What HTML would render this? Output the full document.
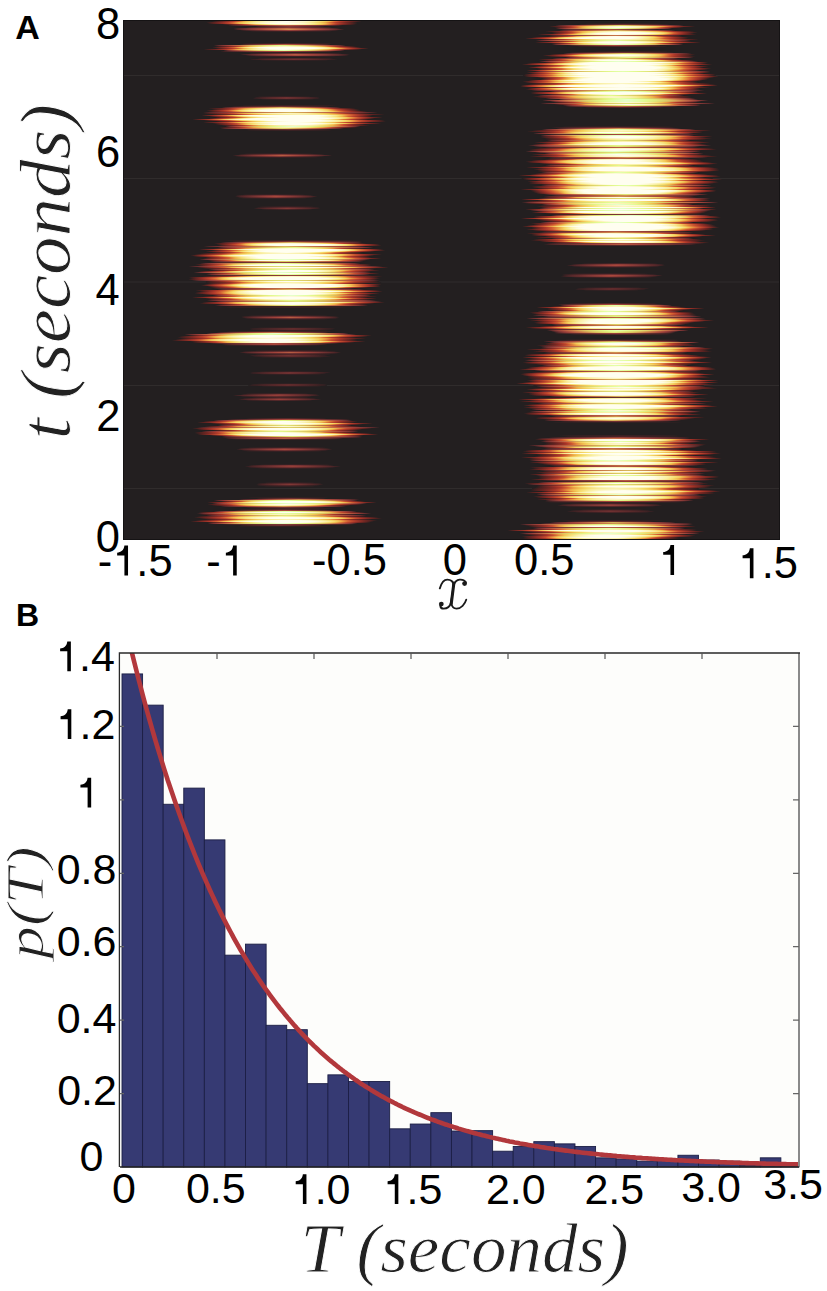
<!DOCTYPE html><html><head><meta charset="utf-8"><style>html,body{margin:0;padding:0;background:#fff;}svg{display:block}</style></head><body>
<svg width="827" height="1291" viewBox="0 0 827 1291">
<defs><linearGradient id="g0"><stop offset="0.000" stop-color="#231f20"/><stop offset="0.036" stop-color="#231f20"/><stop offset="0.071" stop-color="#231f20"/><stop offset="0.107" stop-color="#231f20"/><stop offset="0.143" stop-color="#231f20"/><stop offset="0.179" stop-color="#231f20"/><stop offset="0.214" stop-color="#231f20"/><stop offset="0.250" stop-color="#231f20"/><stop offset="0.286" stop-color="#231f20"/><stop offset="0.321" stop-color="#231f20"/><stop offset="0.357" stop-color="#231f20"/><stop offset="0.393" stop-color="#231f20"/><stop offset="0.429" stop-color="#231f20"/><stop offset="0.464" stop-color="#231f20"/><stop offset="0.500" stop-color="#231f20"/><stop offset="0.536" stop-color="#231f20"/><stop offset="0.571" stop-color="#231f20"/><stop offset="0.607" stop-color="#231f20"/><stop offset="0.643" stop-color="#231f20"/><stop offset="0.679" stop-color="#231f20"/><stop offset="0.714" stop-color="#231f20"/><stop offset="0.750" stop-color="#231f20"/><stop offset="0.786" stop-color="#231f20"/><stop offset="0.821" stop-color="#231f20"/><stop offset="0.857" stop-color="#231f20"/><stop offset="0.893" stop-color="#231f20"/><stop offset="0.929" stop-color="#231f20"/><stop offset="0.964" stop-color="#231f20"/><stop offset="1.000" stop-color="#231f20"/></linearGradient>
<linearGradient id="g1"><stop offset="0.000" stop-color="#231f20"/><stop offset="0.036" stop-color="#241f20"/><stop offset="0.071" stop-color="#241f20"/><stop offset="0.107" stop-color="#241f20"/><stop offset="0.143" stop-color="#251f20"/><stop offset="0.179" stop-color="#251f20"/><stop offset="0.214" stop-color="#251f20"/><stop offset="0.250" stop-color="#251f20"/><stop offset="0.286" stop-color="#251f20"/><stop offset="0.321" stop-color="#251f20"/><stop offset="0.357" stop-color="#251f21"/><stop offset="0.393" stop-color="#251f21"/><stop offset="0.429" stop-color="#261f21"/><stop offset="0.464" stop-color="#261f21"/><stop offset="0.500" stop-color="#261f21"/><stop offset="0.536" stop-color="#261f21"/><stop offset="0.571" stop-color="#261f21"/><stop offset="0.607" stop-color="#251f21"/><stop offset="0.643" stop-color="#251f21"/><stop offset="0.679" stop-color="#251f20"/><stop offset="0.714" stop-color="#251f20"/><stop offset="0.750" stop-color="#251f20"/><stop offset="0.786" stop-color="#251f20"/><stop offset="0.821" stop-color="#251f20"/><stop offset="0.857" stop-color="#251f20"/><stop offset="0.893" stop-color="#241f20"/><stop offset="0.929" stop-color="#241f20"/><stop offset="0.964" stop-color="#241f20"/><stop offset="1.000" stop-color="#231f20"/></linearGradient>
<linearGradient id="g2"><stop offset="0.000" stop-color="#231f20"/><stop offset="0.036" stop-color="#251f20"/><stop offset="0.071" stop-color="#261f21"/><stop offset="0.107" stop-color="#271f21"/><stop offset="0.143" stop-color="#272021"/><stop offset="0.179" stop-color="#282021"/><stop offset="0.214" stop-color="#282021"/><stop offset="0.250" stop-color="#282021"/><stop offset="0.286" stop-color="#292021"/><stop offset="0.321" stop-color="#292021"/><stop offset="0.357" stop-color="#292021"/><stop offset="0.393" stop-color="#292020"/><stop offset="0.429" stop-color="#2a2020"/><stop offset="0.464" stop-color="#2a2020"/><stop offset="0.500" stop-color="#2a2021"/><stop offset="0.536" stop-color="#2a2020"/><stop offset="0.571" stop-color="#2a2020"/><stop offset="0.607" stop-color="#292020"/><stop offset="0.643" stop-color="#292021"/><stop offset="0.679" stop-color="#292021"/><stop offset="0.714" stop-color="#292021"/><stop offset="0.750" stop-color="#282021"/><stop offset="0.786" stop-color="#282021"/><stop offset="0.821" stop-color="#282021"/><stop offset="0.857" stop-color="#272021"/><stop offset="0.893" stop-color="#271f21"/><stop offset="0.929" stop-color="#261f21"/><stop offset="0.964" stop-color="#251f20"/><stop offset="1.000" stop-color="#231f20"/></linearGradient>
<linearGradient id="g3"><stop offset="0.000" stop-color="#231f20"/><stop offset="0.036" stop-color="#271f21"/><stop offset="0.071" stop-color="#282021"/><stop offset="0.107" stop-color="#292020"/><stop offset="0.143" stop-color="#2a2021"/><stop offset="0.179" stop-color="#2b2021"/><stop offset="0.214" stop-color="#2c2021"/><stop offset="0.250" stop-color="#2b2021"/><stop offset="0.286" stop-color="#2c2021"/><stop offset="0.321" stop-color="#2c2021"/><stop offset="0.357" stop-color="#2d2021"/><stop offset="0.393" stop-color="#2d2021"/><stop offset="0.429" stop-color="#2e2022"/><stop offset="0.464" stop-color="#2e2122"/><stop offset="0.500" stop-color="#2f2022"/><stop offset="0.536" stop-color="#2e2122"/><stop offset="0.571" stop-color="#2e2022"/><stop offset="0.607" stop-color="#2d2021"/><stop offset="0.643" stop-color="#2d2021"/><stop offset="0.679" stop-color="#2c2021"/><stop offset="0.714" stop-color="#2c2021"/><stop offset="0.750" stop-color="#2b2021"/><stop offset="0.786" stop-color="#2c2021"/><stop offset="0.821" stop-color="#2b2021"/><stop offset="0.857" stop-color="#2a2021"/><stop offset="0.893" stop-color="#292020"/><stop offset="0.929" stop-color="#282021"/><stop offset="0.964" stop-color="#271f21"/><stop offset="1.000" stop-color="#231f20"/></linearGradient>
<linearGradient id="g4"><stop offset="0.000" stop-color="#231f20"/><stop offset="0.036" stop-color="#292021"/><stop offset="0.071" stop-color="#2b2021"/><stop offset="0.107" stop-color="#2c2021"/><stop offset="0.143" stop-color="#2d2021"/><stop offset="0.179" stop-color="#2e2022"/><stop offset="0.214" stop-color="#2f2022"/><stop offset="0.250" stop-color="#302022"/><stop offset="0.286" stop-color="#312022"/><stop offset="0.321" stop-color="#322022"/><stop offset="0.357" stop-color="#322022"/><stop offset="0.393" stop-color="#332023"/><stop offset="0.429" stop-color="#342023"/><stop offset="0.464" stop-color="#342023"/><stop offset="0.500" stop-color="#352022"/><stop offset="0.536" stop-color="#342023"/><stop offset="0.571" stop-color="#342023"/><stop offset="0.607" stop-color="#332023"/><stop offset="0.643" stop-color="#322022"/><stop offset="0.679" stop-color="#322022"/><stop offset="0.714" stop-color="#312022"/><stop offset="0.750" stop-color="#302022"/><stop offset="0.786" stop-color="#2f2022"/><stop offset="0.821" stop-color="#2e2022"/><stop offset="0.857" stop-color="#2d2021"/><stop offset="0.893" stop-color="#2c2021"/><stop offset="0.929" stop-color="#2b2021"/><stop offset="0.964" stop-color="#292021"/><stop offset="1.000" stop-color="#231f20"/></linearGradient>
<linearGradient id="g5"><stop offset="0.000" stop-color="#231f20"/><stop offset="0.036" stop-color="#2b2021"/><stop offset="0.071" stop-color="#2d2021"/><stop offset="0.107" stop-color="#2f2022"/><stop offset="0.143" stop-color="#312022"/><stop offset="0.179" stop-color="#322022"/><stop offset="0.214" stop-color="#342023"/><stop offset="0.250" stop-color="#352022"/><stop offset="0.286" stop-color="#362022"/><stop offset="0.321" stop-color="#362122"/><stop offset="0.357" stop-color="#372123"/><stop offset="0.393" stop-color="#382123"/><stop offset="0.429" stop-color="#392123"/><stop offset="0.464" stop-color="#3a2123"/><stop offset="0.500" stop-color="#3c2123"/><stop offset="0.536" stop-color="#3a2123"/><stop offset="0.571" stop-color="#392123"/><stop offset="0.607" stop-color="#382123"/><stop offset="0.643" stop-color="#372123"/><stop offset="0.679" stop-color="#362122"/><stop offset="0.714" stop-color="#362022"/><stop offset="0.750" stop-color="#352022"/><stop offset="0.786" stop-color="#342023"/><stop offset="0.821" stop-color="#322022"/><stop offset="0.857" stop-color="#312022"/><stop offset="0.893" stop-color="#2f2022"/><stop offset="0.929" stop-color="#2d2021"/><stop offset="0.964" stop-color="#2b2021"/><stop offset="1.000" stop-color="#231f20"/></linearGradient>
<linearGradient id="g6"><stop offset="0.000" stop-color="#231f20"/><stop offset="0.036" stop-color="#2c2021"/><stop offset="0.071" stop-color="#302022"/><stop offset="0.107" stop-color="#332023"/><stop offset="0.143" stop-color="#352022"/><stop offset="0.179" stop-color="#362122"/><stop offset="0.214" stop-color="#382123"/><stop offset="0.250" stop-color="#3a2123"/><stop offset="0.286" stop-color="#3c2123"/><stop offset="0.321" stop-color="#3e2224"/><stop offset="0.357" stop-color="#412325"/><stop offset="0.393" stop-color="#422325"/><stop offset="0.429" stop-color="#442426"/><stop offset="0.464" stop-color="#462426"/><stop offset="0.500" stop-color="#482426"/><stop offset="0.536" stop-color="#462426"/><stop offset="0.571" stop-color="#442426"/><stop offset="0.607" stop-color="#422325"/><stop offset="0.643" stop-color="#412325"/><stop offset="0.679" stop-color="#3e2224"/><stop offset="0.714" stop-color="#3c2123"/><stop offset="0.750" stop-color="#3a2123"/><stop offset="0.786" stop-color="#382123"/><stop offset="0.821" stop-color="#362122"/><stop offset="0.857" stop-color="#352022"/><stop offset="0.893" stop-color="#332023"/><stop offset="0.929" stop-color="#302022"/><stop offset="0.964" stop-color="#2c2021"/><stop offset="1.000" stop-color="#231f20"/></linearGradient>
<linearGradient id="g7"><stop offset="0.000" stop-color="#231f20"/><stop offset="0.036" stop-color="#2f2022"/><stop offset="0.071" stop-color="#332023"/><stop offset="0.107" stop-color="#372122"/><stop offset="0.143" stop-color="#392123"/><stop offset="0.179" stop-color="#3c2123"/><stop offset="0.214" stop-color="#402324"/><stop offset="0.250" stop-color="#432325"/><stop offset="0.286" stop-color="#462426"/><stop offset="0.321" stop-color="#492426"/><stop offset="0.357" stop-color="#4b2627"/><stop offset="0.393" stop-color="#4e2628"/><stop offset="0.429" stop-color="#502728"/><stop offset="0.464" stop-color="#532729"/><stop offset="0.500" stop-color="#542729"/><stop offset="0.536" stop-color="#532729"/><stop offset="0.571" stop-color="#502728"/><stop offset="0.607" stop-color="#4e2628"/><stop offset="0.643" stop-color="#4b2627"/><stop offset="0.679" stop-color="#492426"/><stop offset="0.714" stop-color="#462426"/><stop offset="0.750" stop-color="#432325"/><stop offset="0.786" stop-color="#402324"/><stop offset="0.821" stop-color="#3c2123"/><stop offset="0.857" stop-color="#392123"/><stop offset="0.893" stop-color="#372122"/><stop offset="0.929" stop-color="#332023"/><stop offset="0.964" stop-color="#2f2022"/><stop offset="1.000" stop-color="#231f20"/></linearGradient>
<linearGradient id="g8"><stop offset="0.000" stop-color="#231f20"/><stop offset="0.036" stop-color="#312022"/><stop offset="0.071" stop-color="#362122"/><stop offset="0.107" stop-color="#3a2123"/><stop offset="0.143" stop-color="#402324"/><stop offset="0.179" stop-color="#452426"/><stop offset="0.214" stop-color="#492426"/><stop offset="0.250" stop-color="#4c2628"/><stop offset="0.286" stop-color="#502729"/><stop offset="0.321" stop-color="#532729"/><stop offset="0.357" stop-color="#572929"/><stop offset="0.393" stop-color="#5a292b"/><stop offset="0.429" stop-color="#5c2a2b"/><stop offset="0.464" stop-color="#5f2a2c"/><stop offset="0.500" stop-color="#612c2c"/><stop offset="0.536" stop-color="#5f2a2c"/><stop offset="0.571" stop-color="#5c2a2b"/><stop offset="0.607" stop-color="#5a292b"/><stop offset="0.643" stop-color="#572929"/><stop offset="0.679" stop-color="#532729"/><stop offset="0.714" stop-color="#502729"/><stop offset="0.750" stop-color="#4c2628"/><stop offset="0.786" stop-color="#492426"/><stop offset="0.821" stop-color="#452426"/><stop offset="0.857" stop-color="#402324"/><stop offset="0.893" stop-color="#3a2123"/><stop offset="0.929" stop-color="#362122"/><stop offset="0.964" stop-color="#312022"/><stop offset="1.000" stop-color="#231f20"/></linearGradient>
<linearGradient id="g9"><stop offset="0.000" stop-color="#231f20"/><stop offset="0.036" stop-color="#342023"/><stop offset="0.071" stop-color="#3a2123"/><stop offset="0.107" stop-color="#412325"/><stop offset="0.143" stop-color="#482426"/><stop offset="0.179" stop-color="#4d2628"/><stop offset="0.214" stop-color="#522729"/><stop offset="0.250" stop-color="#572929"/><stop offset="0.286" stop-color="#5b2a2b"/><stop offset="0.321" stop-color="#5f2a2c"/><stop offset="0.357" stop-color="#622c2c"/><stop offset="0.393" stop-color="#662d2e"/><stop offset="0.429" stop-color="#692e2f"/><stop offset="0.464" stop-color="#6c2f30"/><stop offset="0.500" stop-color="#703131"/><stop offset="0.536" stop-color="#6c2f30"/><stop offset="0.571" stop-color="#692e2f"/><stop offset="0.607" stop-color="#662d2e"/><stop offset="0.643" stop-color="#622c2c"/><stop offset="0.679" stop-color="#5f2a2c"/><stop offset="0.714" stop-color="#5b2a2b"/><stop offset="0.750" stop-color="#572929"/><stop offset="0.786" stop-color="#522729"/><stop offset="0.821" stop-color="#4d2628"/><stop offset="0.857" stop-color="#482426"/><stop offset="0.893" stop-color="#412325"/><stop offset="0.929" stop-color="#3a2123"/><stop offset="0.964" stop-color="#342023"/><stop offset="1.000" stop-color="#231f20"/></linearGradient>
<linearGradient id="g10"><stop offset="0.000" stop-color="#231f20"/><stop offset="0.036" stop-color="#362122"/><stop offset="0.071" stop-color="#402324"/><stop offset="0.107" stop-color="#492426"/><stop offset="0.143" stop-color="#502729"/><stop offset="0.179" stop-color="#572929"/><stop offset="0.214" stop-color="#5c2a2b"/><stop offset="0.250" stop-color="#612c2c"/><stop offset="0.286" stop-color="#662d2e"/><stop offset="0.321" stop-color="#6b2f2f"/><stop offset="0.357" stop-color="#703031"/><stop offset="0.393" stop-color="#753333"/><stop offset="0.429" stop-color="#793433"/><stop offset="0.464" stop-color="#7e3634"/><stop offset="0.500" stop-color="#833835"/><stop offset="0.536" stop-color="#7e3634"/><stop offset="0.571" stop-color="#793433"/><stop offset="0.607" stop-color="#753333"/><stop offset="0.643" stop-color="#703031"/><stop offset="0.679" stop-color="#6b2f2f"/><stop offset="0.714" stop-color="#662d2e"/><stop offset="0.750" stop-color="#612c2c"/><stop offset="0.786" stop-color="#5c2a2b"/><stop offset="0.821" stop-color="#572929"/><stop offset="0.857" stop-color="#502729"/><stop offset="0.893" stop-color="#492426"/><stop offset="0.929" stop-color="#402324"/><stop offset="0.964" stop-color="#362122"/><stop offset="1.000" stop-color="#231f20"/></linearGradient>
<linearGradient id="g11"><stop offset="0.000" stop-color="#231f20"/><stop offset="0.036" stop-color="#392123"/><stop offset="0.071" stop-color="#462426"/><stop offset="0.107" stop-color="#512729"/><stop offset="0.143" stop-color="#59292b"/><stop offset="0.179" stop-color="#602c2c"/><stop offset="0.214" stop-color="#662d2e"/><stop offset="0.250" stop-color="#6d3030"/><stop offset="0.286" stop-color="#733332"/><stop offset="0.321" stop-color="#7a3534"/><stop offset="0.357" stop-color="#813834"/><stop offset="0.393" stop-color="#863935"/><stop offset="0.429" stop-color="#8c3b37"/><stop offset="0.464" stop-color="#913d38"/><stop offset="0.500" stop-color="#973e38"/><stop offset="0.536" stop-color="#913d38"/><stop offset="0.571" stop-color="#8c3b37"/><stop offset="0.607" stop-color="#863935"/><stop offset="0.643" stop-color="#813834"/><stop offset="0.679" stop-color="#7a3534"/><stop offset="0.714" stop-color="#733332"/><stop offset="0.750" stop-color="#6d3030"/><stop offset="0.786" stop-color="#662d2e"/><stop offset="0.821" stop-color="#602c2c"/><stop offset="0.857" stop-color="#59292b"/><stop offset="0.893" stop-color="#512729"/><stop offset="0.929" stop-color="#462426"/><stop offset="0.964" stop-color="#392123"/><stop offset="1.000" stop-color="#231f20"/></linearGradient>
<linearGradient id="g12"><stop offset="0.000" stop-color="#231f20"/><stop offset="0.036" stop-color="#3e2224"/><stop offset="0.071" stop-color="#4d2628"/><stop offset="0.107" stop-color="#59292b"/><stop offset="0.143" stop-color="#612c2c"/><stop offset="0.179" stop-color="#6a2e2f"/><stop offset="0.214" stop-color="#723231"/><stop offset="0.250" stop-color="#7b3534"/><stop offset="0.286" stop-color="#843835"/><stop offset="0.321" stop-color="#8b3b37"/><stop offset="0.357" stop-color="#923d38"/><stop offset="0.393" stop-color="#993f39"/><stop offset="0.429" stop-color="#9f4239"/><stop offset="0.464" stop-color="#a5443b"/><stop offset="0.500" stop-color="#a8493c"/><stop offset="0.536" stop-color="#a5443b"/><stop offset="0.571" stop-color="#9f4239"/><stop offset="0.607" stop-color="#993f39"/><stop offset="0.643" stop-color="#923d38"/><stop offset="0.679" stop-color="#8b3b37"/><stop offset="0.714" stop-color="#843835"/><stop offset="0.750" stop-color="#7b3534"/><stop offset="0.786" stop-color="#723231"/><stop offset="0.821" stop-color="#6a2e2f"/><stop offset="0.857" stop-color="#612c2c"/><stop offset="0.893" stop-color="#59292b"/><stop offset="0.929" stop-color="#4d2628"/><stop offset="0.964" stop-color="#3e2224"/><stop offset="1.000" stop-color="#231f20"/></linearGradient>
<linearGradient id="g13"><stop offset="0.000" stop-color="#231f20"/><stop offset="0.036" stop-color="#422325"/><stop offset="0.071" stop-color="#532729"/><stop offset="0.107" stop-color="#602c2c"/><stop offset="0.143" stop-color="#6b2f2f"/><stop offset="0.179" stop-color="#763333"/><stop offset="0.214" stop-color="#813834"/><stop offset="0.250" stop-color="#8b3b37"/><stop offset="0.286" stop-color="#943d38"/><stop offset="0.321" stop-color="#9c4039"/><stop offset="0.357" stop-color="#a4443b"/><stop offset="0.393" stop-color="#a94b3c"/><stop offset="0.429" stop-color="#ae513e"/><stop offset="0.464" stop-color="#b25740"/><stop offset="0.500" stop-color="#b75e41"/><stop offset="0.536" stop-color="#b25740"/><stop offset="0.571" stop-color="#ae513e"/><stop offset="0.607" stop-color="#a94b3c"/><stop offset="0.643" stop-color="#a4443b"/><stop offset="0.679" stop-color="#9c4039"/><stop offset="0.714" stop-color="#943d38"/><stop offset="0.750" stop-color="#8b3b37"/><stop offset="0.786" stop-color="#813834"/><stop offset="0.821" stop-color="#763333"/><stop offset="0.857" stop-color="#6b2f2f"/><stop offset="0.893" stop-color="#602c2c"/><stop offset="0.929" stop-color="#532729"/><stop offset="0.964" stop-color="#422325"/><stop offset="1.000" stop-color="#231f20"/></linearGradient>
<linearGradient id="g14"><stop offset="0.000" stop-color="#231f20"/><stop offset="0.036" stop-color="#482426"/><stop offset="0.071" stop-color="#5a2a2b"/><stop offset="0.107" stop-color="#682e2f"/><stop offset="0.143" stop-color="#773433"/><stop offset="0.179" stop-color="#843935"/><stop offset="0.214" stop-color="#903c37"/><stop offset="0.250" stop-color="#9b3f39"/><stop offset="0.286" stop-color="#a5443b"/><stop offset="0.321" stop-color="#ab4d3d"/><stop offset="0.357" stop-color="#b15540"/><stop offset="0.393" stop-color="#b65c41"/><stop offset="0.429" stop-color="#bc6442"/><stop offset="0.464" stop-color="#c06b45"/><stop offset="0.500" stop-color="#c67246"/><stop offset="0.536" stop-color="#c06b45"/><stop offset="0.571" stop-color="#bc6442"/><stop offset="0.607" stop-color="#b65c41"/><stop offset="0.643" stop-color="#b15540"/><stop offset="0.679" stop-color="#ab4d3d"/><stop offset="0.714" stop-color="#a5443b"/><stop offset="0.750" stop-color="#9b3f39"/><stop offset="0.786" stop-color="#903c37"/><stop offset="0.821" stop-color="#843935"/><stop offset="0.857" stop-color="#773433"/><stop offset="0.893" stop-color="#682e2f"/><stop offset="0.929" stop-color="#5a2a2b"/><stop offset="0.964" stop-color="#482426"/><stop offset="1.000" stop-color="#231f20"/></linearGradient>
<linearGradient id="g15"><stop offset="0.000" stop-color="#231f20"/><stop offset="0.036" stop-color="#4d2628"/><stop offset="0.071" stop-color="#612c2c"/><stop offset="0.107" stop-color="#723232"/><stop offset="0.143" stop-color="#843835"/><stop offset="0.179" stop-color="#923d38"/><stop offset="0.214" stop-color="#9f4239"/><stop offset="0.250" stop-color="#a8493c"/><stop offset="0.286" stop-color="#b0553e"/><stop offset="0.321" stop-color="#b75e41"/><stop offset="0.357" stop-color="#be6744"/><stop offset="0.393" stop-color="#c47046"/><stop offset="0.429" stop-color="#c97848"/><stop offset="0.464" stop-color="#cc854c"/><stop offset="0.500" stop-color="#cf924f"/><stop offset="0.536" stop-color="#cc854c"/><stop offset="0.571" stop-color="#c97848"/><stop offset="0.607" stop-color="#c47046"/><stop offset="0.643" stop-color="#be6744"/><stop offset="0.679" stop-color="#b75e41"/><stop offset="0.714" stop-color="#b0553e"/><stop offset="0.750" stop-color="#a8493c"/><stop offset="0.786" stop-color="#9f4239"/><stop offset="0.821" stop-color="#923d38"/><stop offset="0.857" stop-color="#843835"/><stop offset="0.893" stop-color="#723232"/><stop offset="0.929" stop-color="#612c2c"/><stop offset="0.964" stop-color="#4d2628"/><stop offset="1.000" stop-color="#231f20"/></linearGradient>
<linearGradient id="g16"><stop offset="0.000" stop-color="#231f20"/><stop offset="0.036" stop-color="#522729"/><stop offset="0.071" stop-color="#692e2f"/><stop offset="0.107" stop-color="#7e3634"/><stop offset="0.143" stop-color="#903c37"/><stop offset="0.179" stop-color="#a1423b"/><stop offset="0.214" stop-color="#ab4d3d"/><stop offset="0.250" stop-color="#b45940"/><stop offset="0.286" stop-color="#bc6444"/><stop offset="0.321" stop-color="#c47046"/><stop offset="0.357" stop-color="#c97b49"/><stop offset="0.393" stop-color="#cd8a4e"/><stop offset="0.429" stop-color="#d19a52"/><stop offset="0.464" stop-color="#d5a856"/><stop offset="0.500" stop-color="#d7b65b"/><stop offset="0.536" stop-color="#d5a856"/><stop offset="0.571" stop-color="#d19a52"/><stop offset="0.607" stop-color="#cd8a4e"/><stop offset="0.643" stop-color="#c97b49"/><stop offset="0.679" stop-color="#c47046"/><stop offset="0.714" stop-color="#bc6444"/><stop offset="0.750" stop-color="#b45940"/><stop offset="0.786" stop-color="#ab4d3d"/><stop offset="0.821" stop-color="#a1423b"/><stop offset="0.857" stop-color="#903c37"/><stop offset="0.893" stop-color="#7e3634"/><stop offset="0.929" stop-color="#692e2f"/><stop offset="0.964" stop-color="#522729"/><stop offset="1.000" stop-color="#231f20"/></linearGradient>
<linearGradient id="g17"><stop offset="0.000" stop-color="#231f20"/><stop offset="0.036" stop-color="#58292b"/><stop offset="0.071" stop-color="#723231"/><stop offset="0.107" stop-color="#8a3a37"/><stop offset="0.143" stop-color="#9e4039"/><stop offset="0.179" stop-color="#ac4e3d"/><stop offset="0.214" stop-color="#b65c41"/><stop offset="0.250" stop-color="#bf6a45"/><stop offset="0.286" stop-color="#c97648"/><stop offset="0.321" stop-color="#cd894d"/><stop offset="0.357" stop-color="#d19b52"/><stop offset="0.393" stop-color="#d5ac57"/><stop offset="0.429" stop-color="#d9bc5c"/><stop offset="0.464" stop-color="#dcc962"/><stop offset="0.500" stop-color="#ddd168"/><stop offset="0.536" stop-color="#dcc962"/><stop offset="0.571" stop-color="#d9bc5c"/><stop offset="0.607" stop-color="#d5ac57"/><stop offset="0.643" stop-color="#d19b52"/><stop offset="0.679" stop-color="#cd894d"/><stop offset="0.714" stop-color="#c97648"/><stop offset="0.750" stop-color="#bf6a45"/><stop offset="0.786" stop-color="#b65c41"/><stop offset="0.821" stop-color="#ac4e3d"/><stop offset="0.857" stop-color="#9e4039"/><stop offset="0.893" stop-color="#8a3a37"/><stop offset="0.929" stop-color="#723231"/><stop offset="0.964" stop-color="#58292b"/><stop offset="1.000" stop-color="#231f20"/></linearGradient>
<linearGradient id="g18"><stop offset="0.000" stop-color="#231f20"/><stop offset="0.036" stop-color="#5d2a2c"/><stop offset="0.071" stop-color="#7b3534"/><stop offset="0.107" stop-color="#963e38"/><stop offset="0.143" stop-color="#a94b3c"/><stop offset="0.179" stop-color="#b65c41"/><stop offset="0.214" stop-color="#c16c45"/><stop offset="0.250" stop-color="#ca7d4a"/><stop offset="0.286" stop-color="#cf9351"/><stop offset="0.321" stop-color="#d5a856"/><stop offset="0.357" stop-color="#d9bc5c"/><stop offset="0.393" stop-color="#dcca63"/><stop offset="0.429" stop-color="#ddd46b"/><stop offset="0.464" stop-color="#dfdd71"/><stop offset="0.500" stop-color="#e0e678"/><stop offset="0.536" stop-color="#dfdd71"/><stop offset="0.571" stop-color="#ddd46b"/><stop offset="0.607" stop-color="#dcca63"/><stop offset="0.643" stop-color="#d9bc5c"/><stop offset="0.679" stop-color="#d5a856"/><stop offset="0.714" stop-color="#cf9351"/><stop offset="0.750" stop-color="#ca7d4a"/><stop offset="0.786" stop-color="#c16c45"/><stop offset="0.821" stop-color="#b65c41"/><stop offset="0.857" stop-color="#a94b3c"/><stop offset="0.893" stop-color="#963e38"/><stop offset="0.929" stop-color="#7b3534"/><stop offset="0.964" stop-color="#5d2a2c"/><stop offset="1.000" stop-color="#231f20"/></linearGradient>
<linearGradient id="g19"><stop offset="0.000" stop-color="#231f20"/><stop offset="0.036" stop-color="#632c2e"/><stop offset="0.071" stop-color="#863935"/><stop offset="0.107" stop-color="#a3433b"/><stop offset="0.143" stop-color="#b25840"/><stop offset="0.179" stop-color="#c06b45"/><stop offset="0.214" stop-color="#ca7f4a"/><stop offset="0.250" stop-color="#d19952"/><stop offset="0.286" stop-color="#d6b25a"/><stop offset="0.321" stop-color="#dbc660"/><stop offset="0.357" stop-color="#ddd269"/><stop offset="0.393" stop-color="#dfdd71"/><stop offset="0.429" stop-color="#e0e879"/><stop offset="0.464" stop-color="#e1f381"/><stop offset="0.500" stop-color="#e2f98c"/><stop offset="0.536" stop-color="#e1f381"/><stop offset="0.571" stop-color="#e0e879"/><stop offset="0.607" stop-color="#dfdd71"/><stop offset="0.643" stop-color="#ddd269"/><stop offset="0.679" stop-color="#dbc660"/><stop offset="0.714" stop-color="#d6b25a"/><stop offset="0.750" stop-color="#d19952"/><stop offset="0.786" stop-color="#ca7f4a"/><stop offset="0.821" stop-color="#c06b45"/><stop offset="0.857" stop-color="#b25840"/><stop offset="0.893" stop-color="#a3433b"/><stop offset="0.929" stop-color="#863935"/><stop offset="0.964" stop-color="#632c2e"/><stop offset="1.000" stop-color="#231f20"/></linearGradient>
<linearGradient id="g20"><stop offset="0.000" stop-color="#231f20"/><stop offset="0.036" stop-color="#692e2f"/><stop offset="0.071" stop-color="#903c37"/><stop offset="0.107" stop-color="#ab4e3d"/><stop offset="0.143" stop-color="#bd6544"/><stop offset="0.179" stop-color="#c97c49"/><stop offset="0.214" stop-color="#d19a52"/><stop offset="0.250" stop-color="#d7b65b"/><stop offset="0.286" stop-color="#dccb64"/><stop offset="0.321" stop-color="#ded96d"/><stop offset="0.357" stop-color="#e0e578"/><stop offset="0.393" stop-color="#e0f181"/><stop offset="0.429" stop-color="#e2f98e"/><stop offset="0.464" stop-color="#e2fe9d"/><stop offset="0.500" stop-color="#e3ffac"/><stop offset="0.536" stop-color="#e2fe9d"/><stop offset="0.571" stop-color="#e2f98e"/><stop offset="0.607" stop-color="#e0f181"/><stop offset="0.643" stop-color="#e0e578"/><stop offset="0.679" stop-color="#ded96d"/><stop offset="0.714" stop-color="#dccb64"/><stop offset="0.750" stop-color="#d7b65b"/><stop offset="0.786" stop-color="#d19a52"/><stop offset="0.821" stop-color="#c97c49"/><stop offset="0.857" stop-color="#bd6544"/><stop offset="0.893" stop-color="#ab4e3d"/><stop offset="0.929" stop-color="#903c37"/><stop offset="0.964" stop-color="#692e2f"/><stop offset="1.000" stop-color="#231f20"/></linearGradient>
<linearGradient id="g21"><stop offset="0.000" stop-color="#231f20"/><stop offset="0.036" stop-color="#703131"/><stop offset="0.071" stop-color="#9b4039"/><stop offset="0.107" stop-color="#b45940"/><stop offset="0.143" stop-color="#c67346"/><stop offset="0.179" stop-color="#d09451"/><stop offset="0.214" stop-color="#d7b55b"/><stop offset="0.250" stop-color="#dccc66"/><stop offset="0.286" stop-color="#dedd71"/><stop offset="0.321" stop-color="#e0ec7c"/><stop offset="0.357" stop-color="#e1f789"/><stop offset="0.393" stop-color="#e2fd9b"/><stop offset="0.429" stop-color="#e3ffac"/><stop offset="0.464" stop-color="#e4ffbd"/><stop offset="0.500" stop-color="#e5ffcc"/><stop offset="0.536" stop-color="#e4ffbd"/><stop offset="0.571" stop-color="#e3ffac"/><stop offset="0.607" stop-color="#e2fd9b"/><stop offset="0.643" stop-color="#e1f789"/><stop offset="0.679" stop-color="#e0ec7c"/><stop offset="0.714" stop-color="#dedd71"/><stop offset="0.750" stop-color="#dccc66"/><stop offset="0.786" stop-color="#d7b55b"/><stop offset="0.821" stop-color="#d09451"/><stop offset="0.857" stop-color="#c67346"/><stop offset="0.893" stop-color="#b45940"/><stop offset="0.929" stop-color="#9b4039"/><stop offset="0.964" stop-color="#703131"/><stop offset="1.000" stop-color="#231f20"/></linearGradient>
<linearGradient id="g22"><stop offset="0.000" stop-color="#231f20"/><stop offset="0.036" stop-color="#46201f"/><stop offset="0.071" stop-color="#5f2321"/><stop offset="0.107" stop-color="#792923"/><stop offset="0.143" stop-color="#993127"/><stop offset="0.179" stop-color="#bf482d"/><stop offset="0.214" stop-color="#dd6f36"/><stop offset="0.250" stop-color="#eba143"/><stop offset="0.286" stop-color="#f1c052"/><stop offset="0.321" stop-color="#f5d761"/><stop offset="0.357" stop-color="#f7e27d"/><stop offset="0.393" stop-color="#f9e991"/><stop offset="0.429" stop-color="#f9ed9c"/><stop offset="0.464" stop-color="#faf0a7"/><stop offset="0.500" stop-color="#fbf2b0"/><stop offset="0.536" stop-color="#faf0a7"/><stop offset="0.571" stop-color="#f9ed9c"/><stop offset="0.607" stop-color="#f9e991"/><stop offset="0.643" stop-color="#f7e27d"/><stop offset="0.679" stop-color="#f5d761"/><stop offset="0.714" stop-color="#f1c052"/><stop offset="0.750" stop-color="#eba143"/><stop offset="0.786" stop-color="#dd6f36"/><stop offset="0.821" stop-color="#bf482d"/><stop offset="0.857" stop-color="#993127"/><stop offset="0.893" stop-color="#792923"/><stop offset="0.929" stop-color="#5f2321"/><stop offset="0.964" stop-color="#46201f"/><stop offset="1.000" stop-color="#231f20"/></linearGradient>
<linearGradient id="g23"><stop offset="0.000" stop-color="#231f20"/><stop offset="0.036" stop-color="#49201f"/><stop offset="0.071" stop-color="#642421"/><stop offset="0.107" stop-color="#822b24"/><stop offset="0.143" stop-color="#a43428"/><stop offset="0.179" stop-color="#c85230"/><stop offset="0.214" stop-color="#e3843c"/><stop offset="0.250" stop-color="#efb44b"/><stop offset="0.286" stop-color="#f4cf5c"/><stop offset="0.321" stop-color="#f6df75"/><stop offset="0.357" stop-color="#f9ea93"/><stop offset="0.393" stop-color="#faf0a8"/><stop offset="0.429" stop-color="#fbf2b1"/><stop offset="0.464" stop-color="#fbf4ba"/><stop offset="0.500" stop-color="#fcf6c4"/><stop offset="0.536" stop-color="#fbf4ba"/><stop offset="0.571" stop-color="#fbf2b1"/><stop offset="0.607" stop-color="#faf0a8"/><stop offset="0.643" stop-color="#f9ea93"/><stop offset="0.679" stop-color="#f6df75"/><stop offset="0.714" stop-color="#f4cf5c"/><stop offset="0.750" stop-color="#efb44b"/><stop offset="0.786" stop-color="#e3843c"/><stop offset="0.821" stop-color="#c85230"/><stop offset="0.857" stop-color="#a43428"/><stop offset="0.893" stop-color="#822b24"/><stop offset="0.929" stop-color="#642421"/><stop offset="0.964" stop-color="#49201f"/><stop offset="1.000" stop-color="#231f20"/></linearGradient>
<linearGradient id="g24"><stop offset="0.000" stop-color="#231f20"/><stop offset="0.036" stop-color="#4d211f"/><stop offset="0.071" stop-color="#6a2522"/><stop offset="0.107" stop-color="#8a2d25"/><stop offset="0.143" stop-color="#ae372a"/><stop offset="0.179" stop-color="#d15c32"/><stop offset="0.214" stop-color="#e99941"/><stop offset="0.250" stop-color="#f1c254"/><stop offset="0.286" stop-color="#f6db6a"/><stop offset="0.321" stop-color="#f8e68a"/><stop offset="0.357" stop-color="#faf1a9"/><stop offset="0.393" stop-color="#fbf4ba"/><stop offset="0.429" stop-color="#fcf6c4"/><stop offset="0.464" stop-color="#fdf8ce"/><stop offset="0.500" stop-color="#fdfad8"/><stop offset="0.536" stop-color="#fdf8ce"/><stop offset="0.571" stop-color="#fcf6c4"/><stop offset="0.607" stop-color="#fbf4ba"/><stop offset="0.643" stop-color="#faf1a9"/><stop offset="0.679" stop-color="#f8e68a"/><stop offset="0.714" stop-color="#f6db6a"/><stop offset="0.750" stop-color="#f1c254"/><stop offset="0.786" stop-color="#e99941"/><stop offset="0.821" stop-color="#d15c32"/><stop offset="0.857" stop-color="#ae372a"/><stop offset="0.893" stop-color="#8a2d25"/><stop offset="0.929" stop-color="#6a2522"/><stop offset="0.964" stop-color="#4d211f"/><stop offset="1.000" stop-color="#231f20"/></linearGradient>
<linearGradient id="g25"><stop offset="0.000" stop-color="#231f20"/><stop offset="0.036" stop-color="#502120"/><stop offset="0.071" stop-color="#6f2622"/><stop offset="0.107" stop-color="#933026"/><stop offset="0.143" stop-color="#b73d2b"/><stop offset="0.179" stop-color="#da6734"/><stop offset="0.214" stop-color="#eead47"/><stop offset="0.250" stop-color="#f4d05d"/><stop offset="0.286" stop-color="#f7e27d"/><stop offset="0.321" stop-color="#faee9f"/><stop offset="0.357" stop-color="#fbf4ba"/><stop offset="0.393" stop-color="#fdf7cd"/><stop offset="0.429" stop-color="#fdf9d8"/><stop offset="0.464" stop-color="#fefbe2"/><stop offset="0.500" stop-color="#fffded"/><stop offset="0.536" stop-color="#fefbe2"/><stop offset="0.571" stop-color="#fdf9d8"/><stop offset="0.607" stop-color="#fdf7cd"/><stop offset="0.643" stop-color="#fbf4ba"/><stop offset="0.679" stop-color="#faee9f"/><stop offset="0.714" stop-color="#f7e27d"/><stop offset="0.750" stop-color="#f4d05d"/><stop offset="0.786" stop-color="#eead47"/><stop offset="0.821" stop-color="#da6734"/><stop offset="0.857" stop-color="#b73d2b"/><stop offset="0.893" stop-color="#933026"/><stop offset="0.929" stop-color="#6f2622"/><stop offset="0.964" stop-color="#502120"/><stop offset="1.000" stop-color="#231f20"/></linearGradient>
<linearGradient id="g26"><stop offset="0.000" stop-color="#231f20"/><stop offset="0.036" stop-color="#542220"/><stop offset="0.071" stop-color="#752723"/><stop offset="0.107" stop-color="#9c3227"/><stop offset="0.143" stop-color="#be462d"/><stop offset="0.179" stop-color="#df7939"/><stop offset="0.214" stop-color="#f0ba4f"/><stop offset="0.250" stop-color="#f6db69"/><stop offset="0.286" stop-color="#f8e990"/><stop offset="0.321" stop-color="#fbf2b1"/><stop offset="0.357" stop-color="#fdf7cd"/><stop offset="0.393" stop-color="#fefbe0"/><stop offset="0.429" stop-color="#fffdeb"/><stop offset="0.464" stop-color="#fffef0"/><stop offset="0.500" stop-color="#fffef0"/><stop offset="0.536" stop-color="#fffef0"/><stop offset="0.571" stop-color="#fffdeb"/><stop offset="0.607" stop-color="#fefbe0"/><stop offset="0.643" stop-color="#fdf7cd"/><stop offset="0.679" stop-color="#fbf2b1"/><stop offset="0.714" stop-color="#f8e990"/><stop offset="0.750" stop-color="#f6db69"/><stop offset="0.786" stop-color="#f0ba4f"/><stop offset="0.821" stop-color="#df7939"/><stop offset="0.857" stop-color="#be462d"/><stop offset="0.893" stop-color="#9c3227"/><stop offset="0.929" stop-color="#752723"/><stop offset="0.964" stop-color="#542220"/><stop offset="1.000" stop-color="#231f20"/></linearGradient>
<linearGradient id="g27"><stop offset="0.000" stop-color="#231f20"/><stop offset="0.036" stop-color="#572220"/><stop offset="0.071" stop-color="#7c2923"/><stop offset="0.107" stop-color="#a53428"/><stop offset="0.143" stop-color="#c54e2f"/><stop offset="0.179" stop-color="#e48b3d"/><stop offset="0.214" stop-color="#f2c757"/><stop offset="0.250" stop-color="#f7e17b"/><stop offset="0.286" stop-color="#faf0a4"/><stop offset="0.321" stop-color="#fcf5c2"/><stop offset="0.357" stop-color="#fefbdf"/><stop offset="0.393" stop-color="#fffef0"/><stop offset="0.429" stop-color="#fffef0"/><stop offset="0.464" stop-color="#fffef0"/><stop offset="0.500" stop-color="#fffef0"/><stop offset="0.536" stop-color="#fffef0"/><stop offset="0.571" stop-color="#fffef0"/><stop offset="0.607" stop-color="#fffef0"/><stop offset="0.643" stop-color="#fefbdf"/><stop offset="0.679" stop-color="#fcf5c2"/><stop offset="0.714" stop-color="#faf0a4"/><stop offset="0.750" stop-color="#f7e17b"/><stop offset="0.786" stop-color="#f2c757"/><stop offset="0.821" stop-color="#e48b3d"/><stop offset="0.857" stop-color="#c54e2f"/><stop offset="0.893" stop-color="#a53428"/><stop offset="0.929" stop-color="#7c2923"/><stop offset="0.964" stop-color="#572220"/><stop offset="1.000" stop-color="#231f20"/></linearGradient>
<linearGradient id="g28"><stop offset="0.000" stop-color="#231f20"/><stop offset="0.036" stop-color="#5b2320"/><stop offset="0.071" stop-color="#832b24"/><stop offset="0.107" stop-color="#ae3729"/><stop offset="0.143" stop-color="#cd5731"/><stop offset="0.179" stop-color="#ea9d42"/><stop offset="0.214" stop-color="#f4d45f"/><stop offset="0.250" stop-color="#f8e78d"/><stop offset="0.286" stop-color="#fbf3b4"/><stop offset="0.321" stop-color="#fdf9d3"/><stop offset="0.357" stop-color="#fffef0"/><stop offset="0.393" stop-color="#fffef0"/><stop offset="0.429" stop-color="#fffef0"/><stop offset="0.464" stop-color="#fffef0"/><stop offset="0.500" stop-color="#fffef0"/><stop offset="0.536" stop-color="#fffef0"/><stop offset="0.571" stop-color="#fffef0"/><stop offset="0.607" stop-color="#fffef0"/><stop offset="0.643" stop-color="#fffef0"/><stop offset="0.679" stop-color="#fdf9d3"/><stop offset="0.714" stop-color="#fbf3b4"/><stop offset="0.750" stop-color="#f8e78d"/><stop offset="0.786" stop-color="#f4d45f"/><stop offset="0.821" stop-color="#ea9d42"/><stop offset="0.857" stop-color="#cd5731"/><stop offset="0.893" stop-color="#ae3729"/><stop offset="0.929" stop-color="#832b24"/><stop offset="0.964" stop-color="#5b2320"/><stop offset="1.000" stop-color="#231f20"/></linearGradient>
<linearGradient id="g29"><stop offset="0.000" stop-color="#231f20"/><stop offset="0.036" stop-color="#5f2321"/><stop offset="0.071" stop-color="#8a2d25"/><stop offset="0.107" stop-color="#b53c2b"/><stop offset="0.143" stop-color="#d46033"/><stop offset="0.179" stop-color="#eeae47"/><stop offset="0.214" stop-color="#f6dc6c"/><stop offset="0.250" stop-color="#faee9f"/><stop offset="0.286" stop-color="#fcf6c4"/><stop offset="0.321" stop-color="#fefce4"/><stop offset="0.357" stop-color="#fffef0"/><stop offset="0.393" stop-color="#fffef0"/><stop offset="0.429" stop-color="#fffef0"/><stop offset="0.464" stop-color="#fffef0"/><stop offset="0.500" stop-color="#fffef0"/><stop offset="0.536" stop-color="#fffef0"/><stop offset="0.571" stop-color="#fffef0"/><stop offset="0.607" stop-color="#fffef0"/><stop offset="0.643" stop-color="#fffef0"/><stop offset="0.679" stop-color="#fefce4"/><stop offset="0.714" stop-color="#fcf6c4"/><stop offset="0.750" stop-color="#faee9f"/><stop offset="0.786" stop-color="#f6dc6c"/><stop offset="0.821" stop-color="#eeae47"/><stop offset="0.857" stop-color="#d46033"/><stop offset="0.893" stop-color="#b53c2b"/><stop offset="0.929" stop-color="#8a2d25"/><stop offset="0.964" stop-color="#5f2321"/><stop offset="1.000" stop-color="#231f20"/></linearGradient>
<linearGradient id="g30"><stop offset="0.000" stop-color="#231f20"/><stop offset="0.036" stop-color="#632421"/><stop offset="0.071" stop-color="#912f26"/><stop offset="0.107" stop-color="#bb432c"/><stop offset="0.143" stop-color="#db6a35"/><stop offset="0.179" stop-color="#f0b94e"/><stop offset="0.214" stop-color="#f7e17c"/><stop offset="0.250" stop-color="#fbf2ae"/><stop offset="0.286" stop-color="#fdf9d4"/><stop offset="0.321" stop-color="#fffef0"/><stop offset="0.357" stop-color="#fffef0"/><stop offset="0.393" stop-color="#fffef0"/><stop offset="0.429" stop-color="#fffef0"/><stop offset="0.464" stop-color="#fffef0"/><stop offset="0.500" stop-color="#fffef0"/><stop offset="0.536" stop-color="#fffef0"/><stop offset="0.571" stop-color="#fffef0"/><stop offset="0.607" stop-color="#fffef0"/><stop offset="0.643" stop-color="#fffef0"/><stop offset="0.679" stop-color="#fffef0"/><stop offset="0.714" stop-color="#fdf9d4"/><stop offset="0.750" stop-color="#fbf2ae"/><stop offset="0.786" stop-color="#f7e17c"/><stop offset="0.821" stop-color="#f0b94e"/><stop offset="0.857" stop-color="#db6a35"/><stop offset="0.893" stop-color="#bb432c"/><stop offset="0.929" stop-color="#912f26"/><stop offset="0.964" stop-color="#632421"/><stop offset="1.000" stop-color="#231f20"/></linearGradient>
<linearGradient id="g31"><stop offset="0.000" stop-color="#231f20"/><stop offset="0.036" stop-color="#662521"/><stop offset="0.071" stop-color="#983127"/><stop offset="0.107" stop-color="#c24a2e"/><stop offset="0.143" stop-color="#df7939"/><stop offset="0.179" stop-color="#f2c455"/><stop offset="0.214" stop-color="#f8e78c"/><stop offset="0.250" stop-color="#fcf4bd"/><stop offset="0.286" stop-color="#fefce4"/><stop offset="0.321" stop-color="#fffef0"/><stop offset="0.357" stop-color="#fffef0"/><stop offset="0.393" stop-color="#fffef0"/><stop offset="0.429" stop-color="#fffef0"/><stop offset="0.464" stop-color="#fffef0"/><stop offset="0.500" stop-color="#fffef0"/><stop offset="0.536" stop-color="#fffef0"/><stop offset="0.571" stop-color="#fffef0"/><stop offset="0.607" stop-color="#fffef0"/><stop offset="0.643" stop-color="#fffef0"/><stop offset="0.679" stop-color="#fffef0"/><stop offset="0.714" stop-color="#fefce4"/><stop offset="0.750" stop-color="#fcf4bd"/><stop offset="0.786" stop-color="#f8e78c"/><stop offset="0.821" stop-color="#f2c455"/><stop offset="0.857" stop-color="#df7939"/><stop offset="0.893" stop-color="#c24a2e"/><stop offset="0.929" stop-color="#983127"/><stop offset="0.964" stop-color="#662521"/><stop offset="1.000" stop-color="#231f20"/></linearGradient>
<linearGradient id="g32"><stop offset="0.000" stop-color="#231f20"/><stop offset="0.036" stop-color="#6a2522"/><stop offset="0.071" stop-color="#a03328"/><stop offset="0.107" stop-color="#c8512f"/><stop offset="0.143" stop-color="#e4883d"/><stop offset="0.179" stop-color="#f4cf5c"/><stop offset="0.214" stop-color="#f9ed9d"/><stop offset="0.250" stop-color="#fdf7cc"/><stop offset="0.286" stop-color="#fffef0"/><stop offset="0.321" stop-color="#fffef0"/><stop offset="0.357" stop-color="#fffef0"/><stop offset="0.393" stop-color="#fffef0"/><stop offset="0.429" stop-color="#fffef0"/><stop offset="0.464" stop-color="#fffef0"/><stop offset="0.500" stop-color="#fffef0"/><stop offset="0.536" stop-color="#fffef0"/><stop offset="0.571" stop-color="#fffef0"/><stop offset="0.607" stop-color="#fffef0"/><stop offset="0.643" stop-color="#fffef0"/><stop offset="0.679" stop-color="#fffef0"/><stop offset="0.714" stop-color="#fffef0"/><stop offset="0.750" stop-color="#fdf7cc"/><stop offset="0.786" stop-color="#f9ed9d"/><stop offset="0.821" stop-color="#f4cf5c"/><stop offset="0.857" stop-color="#e4883d"/><stop offset="0.893" stop-color="#c8512f"/><stop offset="0.929" stop-color="#a03328"/><stop offset="0.964" stop-color="#6a2522"/><stop offset="1.000" stop-color="#231f20"/></linearGradient>
<linearGradient id="g33"><stop offset="0.000" stop-color="#231f20"/><stop offset="0.036" stop-color="#6e2622"/><stop offset="0.071" stop-color="#a73529"/><stop offset="0.107" stop-color="#ce5931"/><stop offset="0.143" stop-color="#e89741"/><stop offset="0.179" stop-color="#f5d965"/><stop offset="0.214" stop-color="#faf1ab"/><stop offset="0.250" stop-color="#fefadb"/><stop offset="0.286" stop-color="#fffef0"/><stop offset="0.321" stop-color="#fffef0"/><stop offset="0.357" stop-color="#fffef0"/><stop offset="0.393" stop-color="#fffef0"/><stop offset="0.429" stop-color="#fffef0"/><stop offset="0.464" stop-color="#fffef0"/><stop offset="0.500" stop-color="#fffef0"/><stop offset="0.536" stop-color="#fffef0"/><stop offset="0.571" stop-color="#fffef0"/><stop offset="0.607" stop-color="#fffef0"/><stop offset="0.643" stop-color="#fffef0"/><stop offset="0.679" stop-color="#fffef0"/><stop offset="0.714" stop-color="#fffef0"/><stop offset="0.750" stop-color="#fefadb"/><stop offset="0.786" stop-color="#faf1ab"/><stop offset="0.821" stop-color="#f5d965"/><stop offset="0.857" stop-color="#e89741"/><stop offset="0.893" stop-color="#ce5931"/><stop offset="0.929" stop-color="#a73529"/><stop offset="0.964" stop-color="#6e2622"/><stop offset="1.000" stop-color="#231f20"/></linearGradient>
<linearGradient id="g34"><stop offset="0.000" stop-color="#231f20"/><stop offset="0.036" stop-color="#732722"/><stop offset="0.071" stop-color="#af372a"/><stop offset="0.107" stop-color="#d56033"/><stop offset="0.143" stop-color="#eda745"/><stop offset="0.179" stop-color="#f6de72"/><stop offset="0.214" stop-color="#fbf4b8"/><stop offset="0.250" stop-color="#fffdea"/><stop offset="0.286" stop-color="#fffef0"/><stop offset="0.321" stop-color="#fffef0"/><stop offset="0.357" stop-color="#fffef0"/><stop offset="0.393" stop-color="#fffef0"/><stop offset="0.429" stop-color="#fffef0"/><stop offset="0.464" stop-color="#fffef0"/><stop offset="0.500" stop-color="#fffef0"/><stop offset="0.536" stop-color="#fffef0"/><stop offset="0.571" stop-color="#fffef0"/><stop offset="0.607" stop-color="#fffef0"/><stop offset="0.643" stop-color="#fffef0"/><stop offset="0.679" stop-color="#fffef0"/><stop offset="0.714" stop-color="#fffef0"/><stop offset="0.750" stop-color="#fffdea"/><stop offset="0.786" stop-color="#fbf4b8"/><stop offset="0.821" stop-color="#f6de72"/><stop offset="0.857" stop-color="#eda745"/><stop offset="0.893" stop-color="#d56033"/><stop offset="0.929" stop-color="#af372a"/><stop offset="0.964" stop-color="#732722"/><stop offset="1.000" stop-color="#231f20"/></linearGradient>
<linearGradient id="g35"><stop offset="0.000" stop-color="#231f20"/><stop offset="0.036" stop-color="#782823"/><stop offset="0.071" stop-color="#b53b2b"/><stop offset="0.107" stop-color="#db6935"/><stop offset="0.143" stop-color="#efb24a"/><stop offset="0.179" stop-color="#f7e380"/><stop offset="0.214" stop-color="#fcf6c6"/><stop offset="0.250" stop-color="#fffef0"/><stop offset="0.286" stop-color="#fffef0"/><stop offset="0.321" stop-color="#fffef0"/><stop offset="0.357" stop-color="#fffef0"/><stop offset="0.393" stop-color="#fffef0"/><stop offset="0.429" stop-color="#fffef0"/><stop offset="0.464" stop-color="#fffef0"/><stop offset="0.500" stop-color="#fffef0"/><stop offset="0.536" stop-color="#fffef0"/><stop offset="0.571" stop-color="#fffef0"/><stop offset="0.607" stop-color="#fffef0"/><stop offset="0.643" stop-color="#fffef0"/><stop offset="0.679" stop-color="#fffef0"/><stop offset="0.714" stop-color="#fffef0"/><stop offset="0.750" stop-color="#fffef0"/><stop offset="0.786" stop-color="#fcf6c6"/><stop offset="0.821" stop-color="#f7e380"/><stop offset="0.857" stop-color="#efb24a"/><stop offset="0.893" stop-color="#db6935"/><stop offset="0.929" stop-color="#b53b2b"/><stop offset="0.964" stop-color="#782823"/><stop offset="1.000" stop-color="#231f20"/></linearGradient>
<linearGradient id="g36"><stop offset="0.000" stop-color="#231f20"/><stop offset="0.036" stop-color="#7d2a24"/><stop offset="0.071" stop-color="#ba412c"/><stop offset="0.107" stop-color="#de7538"/><stop offset="0.143" stop-color="#f0bb50"/><stop offset="0.179" stop-color="#f8e88e"/><stop offset="0.214" stop-color="#fdf9d3"/><stop offset="0.250" stop-color="#fffef0"/><stop offset="0.286" stop-color="#fffef0"/><stop offset="0.321" stop-color="#fffef0"/><stop offset="0.357" stop-color="#fffef0"/><stop offset="0.393" stop-color="#fffef0"/><stop offset="0.429" stop-color="#fffef0"/><stop offset="0.464" stop-color="#fffef0"/><stop offset="0.500" stop-color="#fffef0"/><stop offset="0.536" stop-color="#fffef0"/><stop offset="0.571" stop-color="#fffef0"/><stop offset="0.607" stop-color="#fffef0"/><stop offset="0.643" stop-color="#fffef0"/><stop offset="0.679" stop-color="#fffef0"/><stop offset="0.714" stop-color="#fffef0"/><stop offset="0.750" stop-color="#fffef0"/><stop offset="0.786" stop-color="#fdf9d3"/><stop offset="0.821" stop-color="#f8e88e"/><stop offset="0.857" stop-color="#f0bb50"/><stop offset="0.893" stop-color="#de7538"/><stop offset="0.929" stop-color="#ba412c"/><stop offset="0.964" stop-color="#7d2a24"/><stop offset="1.000" stop-color="#231f20"/></linearGradient>
<linearGradient id="g37"><stop offset="0.000" stop-color="#231f20"/><stop offset="0.036" stop-color="#832b24"/><stop offset="0.071" stop-color="#bf472d"/><stop offset="0.107" stop-color="#e2823b"/><stop offset="0.143" stop-color="#f2c456"/><stop offset="0.179" stop-color="#f9ed9c"/><stop offset="0.214" stop-color="#fefbe1"/><stop offset="0.250" stop-color="#fffef0"/><stop offset="0.286" stop-color="#fffef0"/><stop offset="0.321" stop-color="#fffef0"/><stop offset="0.357" stop-color="#fffef0"/><stop offset="0.393" stop-color="#fffef0"/><stop offset="0.429" stop-color="#fffef0"/><stop offset="0.464" stop-color="#fffef0"/><stop offset="0.500" stop-color="#fffef0"/><stop offset="0.536" stop-color="#fffef0"/><stop offset="0.571" stop-color="#fffef0"/><stop offset="0.607" stop-color="#fffef0"/><stop offset="0.643" stop-color="#fffef0"/><stop offset="0.679" stop-color="#fffef0"/><stop offset="0.714" stop-color="#fffef0"/><stop offset="0.750" stop-color="#fffef0"/><stop offset="0.786" stop-color="#fefbe1"/><stop offset="0.821" stop-color="#f9ed9c"/><stop offset="0.857" stop-color="#f2c456"/><stop offset="0.893" stop-color="#e2823b"/><stop offset="0.929" stop-color="#bf472d"/><stop offset="0.964" stop-color="#832b24"/><stop offset="1.000" stop-color="#231f20"/></linearGradient>
<linearGradient id="g38"><stop offset="0.000" stop-color="#231f20"/><stop offset="0.036" stop-color="#882c25"/><stop offset="0.071" stop-color="#c44d2f"/><stop offset="0.107" stop-color="#e68f3f"/><stop offset="0.143" stop-color="#f3ce5b"/><stop offset="0.179" stop-color="#faf1a9"/><stop offset="0.214" stop-color="#fffeee"/><stop offset="0.250" stop-color="#fffef0"/><stop offset="0.286" stop-color="#fffef0"/><stop offset="0.321" stop-color="#fffef0"/><stop offset="0.357" stop-color="#fffef0"/><stop offset="0.393" stop-color="#fffef0"/><stop offset="0.429" stop-color="#fffef0"/><stop offset="0.464" stop-color="#fffef0"/><stop offset="0.500" stop-color="#fffef0"/><stop offset="0.536" stop-color="#fffef0"/><stop offset="0.571" stop-color="#fffef0"/><stop offset="0.607" stop-color="#fffef0"/><stop offset="0.643" stop-color="#fffef0"/><stop offset="0.679" stop-color="#fffef0"/><stop offset="0.714" stop-color="#fffef0"/><stop offset="0.750" stop-color="#fffef0"/><stop offset="0.786" stop-color="#fffeee"/><stop offset="0.821" stop-color="#faf1a9"/><stop offset="0.857" stop-color="#f3ce5b"/><stop offset="0.893" stop-color="#e68f3f"/><stop offset="0.929" stop-color="#c44d2f"/><stop offset="0.964" stop-color="#882c25"/><stop offset="1.000" stop-color="#231f20"/></linearGradient>
<linearGradient id="g39"><stop offset="0.000" stop-color="#231f20"/><stop offset="0.036" stop-color="#8d2e26"/><stop offset="0.071" stop-color="#ca5330"/><stop offset="0.107" stop-color="#ea9d42"/><stop offset="0.143" stop-color="#f5d761"/><stop offset="0.179" stop-color="#fbf3b4"/><stop offset="0.214" stop-color="#fffef0"/><stop offset="0.250" stop-color="#fffef0"/><stop offset="0.286" stop-color="#fffef0"/><stop offset="0.321" stop-color="#fffef0"/><stop offset="0.357" stop-color="#fffef0"/><stop offset="0.393" stop-color="#fffef0"/><stop offset="0.429" stop-color="#fffef0"/><stop offset="0.464" stop-color="#fffef0"/><stop offset="0.500" stop-color="#fffef0"/><stop offset="0.536" stop-color="#fffef0"/><stop offset="0.571" stop-color="#fffef0"/><stop offset="0.607" stop-color="#fffef0"/><stop offset="0.643" stop-color="#fffef0"/><stop offset="0.679" stop-color="#fffef0"/><stop offset="0.714" stop-color="#fffef0"/><stop offset="0.750" stop-color="#fffef0"/><stop offset="0.786" stop-color="#fffef0"/><stop offset="0.821" stop-color="#fbf3b4"/><stop offset="0.857" stop-color="#f5d761"/><stop offset="0.893" stop-color="#ea9d42"/><stop offset="0.929" stop-color="#ca5330"/><stop offset="0.964" stop-color="#8d2e26"/><stop offset="1.000" stop-color="#231f20"/></linearGradient>
<linearGradient id="g40"><stop offset="0.000" stop-color="#231f20"/><stop offset="0.036" stop-color="#932f26"/><stop offset="0.071" stop-color="#cf5931"/><stop offset="0.107" stop-color="#edaa45"/><stop offset="0.143" stop-color="#f6dc6c"/><stop offset="0.179" stop-color="#fcf5c0"/><stop offset="0.214" stop-color="#fffef0"/><stop offset="0.250" stop-color="#fffef0"/><stop offset="0.286" stop-color="#fffef0"/><stop offset="0.321" stop-color="#fffef0"/><stop offset="0.357" stop-color="#fffef0"/><stop offset="0.393" stop-color="#fffef0"/><stop offset="0.429" stop-color="#fffef0"/><stop offset="0.464" stop-color="#fffef0"/><stop offset="0.500" stop-color="#fffef0"/><stop offset="0.536" stop-color="#fffef0"/><stop offset="0.571" stop-color="#fffef0"/><stop offset="0.607" stop-color="#fffef0"/><stop offset="0.643" stop-color="#fffef0"/><stop offset="0.679" stop-color="#fffef0"/><stop offset="0.714" stop-color="#fffef0"/><stop offset="0.750" stop-color="#fffef0"/><stop offset="0.786" stop-color="#fffef0"/><stop offset="0.821" stop-color="#fcf5c0"/><stop offset="0.857" stop-color="#f6dc6c"/><stop offset="0.893" stop-color="#edaa45"/><stop offset="0.929" stop-color="#cf5931"/><stop offset="0.964" stop-color="#932f26"/><stop offset="1.000" stop-color="#231f20"/></linearGradient>
<linearGradient id="g41"><stop offset="0.000" stop-color="#231f20"/><stop offset="0.036" stop-color="#983127"/><stop offset="0.071" stop-color="#d45f33"/><stop offset="0.107" stop-color="#efb34a"/><stop offset="0.143" stop-color="#f7e078"/><stop offset="0.179" stop-color="#fdf7cb"/><stop offset="0.214" stop-color="#fffef0"/><stop offset="0.250" stop-color="#fffef0"/><stop offset="0.286" stop-color="#fffef0"/><stop offset="0.321" stop-color="#fffef0"/><stop offset="0.357" stop-color="#fffef0"/><stop offset="0.393" stop-color="#fffef0"/><stop offset="0.429" stop-color="#fffef0"/><stop offset="0.464" stop-color="#fffef0"/><stop offset="0.500" stop-color="#fffef0"/><stop offset="0.536" stop-color="#fffef0"/><stop offset="0.571" stop-color="#fffef0"/><stop offset="0.607" stop-color="#fffef0"/><stop offset="0.643" stop-color="#fffef0"/><stop offset="0.679" stop-color="#fffef0"/><stop offset="0.714" stop-color="#fffef0"/><stop offset="0.750" stop-color="#fffef0"/><stop offset="0.786" stop-color="#fffef0"/><stop offset="0.821" stop-color="#fdf7cb"/><stop offset="0.857" stop-color="#f7e078"/><stop offset="0.893" stop-color="#efb34a"/><stop offset="0.929" stop-color="#d45f33"/><stop offset="0.964" stop-color="#983127"/><stop offset="1.000" stop-color="#231f20"/></linearGradient>
<linearGradient id="g42"><stop offset="0.000" stop-color="#231f20"/><stop offset="0.036" stop-color="#9e3228"/><stop offset="0.071" stop-color="#da6634"/><stop offset="0.107" stop-color="#f0ba4f"/><stop offset="0.143" stop-color="#f7e483"/><stop offset="0.179" stop-color="#fdf9d7"/><stop offset="0.214" stop-color="#fffef0"/><stop offset="0.250" stop-color="#fffef0"/><stop offset="0.286" stop-color="#fffef0"/><stop offset="0.321" stop-color="#fffef0"/><stop offset="0.357" stop-color="#fffef0"/><stop offset="0.393" stop-color="#fffef0"/><stop offset="0.429" stop-color="#fffef0"/><stop offset="0.464" stop-color="#fffef0"/><stop offset="0.500" stop-color="#fffef0"/><stop offset="0.536" stop-color="#fffef0"/><stop offset="0.571" stop-color="#fffef0"/><stop offset="0.607" stop-color="#fffef0"/><stop offset="0.643" stop-color="#fffef0"/><stop offset="0.679" stop-color="#fffef0"/><stop offset="0.714" stop-color="#fffef0"/><stop offset="0.750" stop-color="#fffef0"/><stop offset="0.786" stop-color="#fffef0"/><stop offset="0.821" stop-color="#fdf9d7"/><stop offset="0.857" stop-color="#f7e483"/><stop offset="0.893" stop-color="#f0ba4f"/><stop offset="0.929" stop-color="#da6634"/><stop offset="0.964" stop-color="#9e3228"/><stop offset="1.000" stop-color="#231f20"/></linearGradient>
<linearGradient id="g43"><stop offset="0.000" stop-color="#231f20"/><stop offset="0.036" stop-color="#a33428"/><stop offset="0.071" stop-color="#dd7037"/><stop offset="0.107" stop-color="#f2c254"/><stop offset="0.143" stop-color="#f8e88f"/><stop offset="0.179" stop-color="#fefbe2"/><stop offset="0.214" stop-color="#fffef0"/><stop offset="0.250" stop-color="#fffef0"/><stop offset="0.286" stop-color="#fffef0"/><stop offset="0.321" stop-color="#fffef0"/><stop offset="0.357" stop-color="#fffef0"/><stop offset="0.393" stop-color="#fffef0"/><stop offset="0.429" stop-color="#fffef0"/><stop offset="0.464" stop-color="#fffef0"/><stop offset="0.500" stop-color="#fffef0"/><stop offset="0.536" stop-color="#fffef0"/><stop offset="0.571" stop-color="#fffef0"/><stop offset="0.607" stop-color="#fffef0"/><stop offset="0.643" stop-color="#fffef0"/><stop offset="0.679" stop-color="#fffef0"/><stop offset="0.714" stop-color="#fffef0"/><stop offset="0.750" stop-color="#fffef0"/><stop offset="0.786" stop-color="#fffef0"/><stop offset="0.821" stop-color="#fefbe2"/><stop offset="0.857" stop-color="#f8e88f"/><stop offset="0.893" stop-color="#f2c254"/><stop offset="0.929" stop-color="#dd7037"/><stop offset="0.964" stop-color="#a33428"/><stop offset="1.000" stop-color="#231f20"/></linearGradient>
<linearGradient id="g44"><stop offset="0.000" stop-color="#231f20"/><stop offset="0.036" stop-color="#a93529"/><stop offset="0.071" stop-color="#e07a39"/><stop offset="0.107" stop-color="#f3ca59"/><stop offset="0.143" stop-color="#f9ec9b"/><stop offset="0.179" stop-color="#fffeee"/><stop offset="0.214" stop-color="#fffef0"/><stop offset="0.250" stop-color="#fffef0"/><stop offset="0.286" stop-color="#fffef0"/><stop offset="0.321" stop-color="#fffef0"/><stop offset="0.357" stop-color="#fffef0"/><stop offset="0.393" stop-color="#fffef0"/><stop offset="0.429" stop-color="#fffef0"/><stop offset="0.464" stop-color="#fffef0"/><stop offset="0.500" stop-color="#fffef0"/><stop offset="0.536" stop-color="#fffef0"/><stop offset="0.571" stop-color="#fffef0"/><stop offset="0.607" stop-color="#fffef0"/><stop offset="0.643" stop-color="#fffef0"/><stop offset="0.679" stop-color="#fffef0"/><stop offset="0.714" stop-color="#fffef0"/><stop offset="0.750" stop-color="#fffef0"/><stop offset="0.786" stop-color="#fffef0"/><stop offset="0.821" stop-color="#fffeee"/><stop offset="0.857" stop-color="#f9ec9b"/><stop offset="0.893" stop-color="#f3ca59"/><stop offset="0.929" stop-color="#e07a39"/><stop offset="0.964" stop-color="#a93529"/><stop offset="1.000" stop-color="#231f20"/></linearGradient>
<linearGradient id="g45"><stop offset="0.000" stop-color="#231f20"/><stop offset="0.036" stop-color="#af372a"/><stop offset="0.071" stop-color="#e3853c"/><stop offset="0.107" stop-color="#f4d25e"/><stop offset="0.143" stop-color="#faf0a6"/><stop offset="0.179" stop-color="#fffef0"/><stop offset="0.214" stop-color="#fffef0"/><stop offset="0.250" stop-color="#fffef0"/><stop offset="0.286" stop-color="#fffef0"/><stop offset="0.321" stop-color="#fffef0"/><stop offset="0.357" stop-color="#fffef0"/><stop offset="0.393" stop-color="#fffef0"/><stop offset="0.429" stop-color="#fffef0"/><stop offset="0.464" stop-color="#fffef0"/><stop offset="0.500" stop-color="#fffef0"/><stop offset="0.536" stop-color="#fffef0"/><stop offset="0.571" stop-color="#fffef0"/><stop offset="0.607" stop-color="#fffef0"/><stop offset="0.643" stop-color="#fffef0"/><stop offset="0.679" stop-color="#fffef0"/><stop offset="0.714" stop-color="#fffef0"/><stop offset="0.750" stop-color="#fffef0"/><stop offset="0.786" stop-color="#fffef0"/><stop offset="0.821" stop-color="#fffef0"/><stop offset="0.857" stop-color="#faf0a6"/><stop offset="0.893" stop-color="#f4d25e"/><stop offset="0.929" stop-color="#e3853c"/><stop offset="0.964" stop-color="#af372a"/><stop offset="1.000" stop-color="#231f20"/></linearGradient>
<linearGradient id="g46"><stop offset="0.000" stop-color="#231f20"/><stop offset="0.036" stop-color="#b33a2a"/><stop offset="0.071" stop-color="#e6903f"/><stop offset="0.107" stop-color="#f5d965"/><stop offset="0.143" stop-color="#fbf2b0"/><stop offset="0.179" stop-color="#fffef0"/><stop offset="0.214" stop-color="#fffef0"/><stop offset="0.250" stop-color="#fffef0"/><stop offset="0.286" stop-color="#fffef0"/><stop offset="0.321" stop-color="#fffef0"/><stop offset="0.357" stop-color="#fffef0"/><stop offset="0.393" stop-color="#fffef0"/><stop offset="0.429" stop-color="#fffef0"/><stop offset="0.464" stop-color="#fffef0"/><stop offset="0.500" stop-color="#fffef0"/><stop offset="0.536" stop-color="#fffef0"/><stop offset="0.571" stop-color="#fffef0"/><stop offset="0.607" stop-color="#fffef0"/><stop offset="0.643" stop-color="#fffef0"/><stop offset="0.679" stop-color="#fffef0"/><stop offset="0.714" stop-color="#fffef0"/><stop offset="0.750" stop-color="#fffef0"/><stop offset="0.786" stop-color="#fffef0"/><stop offset="0.821" stop-color="#fffef0"/><stop offset="0.857" stop-color="#fbf2b0"/><stop offset="0.893" stop-color="#f5d965"/><stop offset="0.929" stop-color="#e6903f"/><stop offset="0.964" stop-color="#b33a2a"/><stop offset="1.000" stop-color="#231f20"/></linearGradient>
<linearGradient id="g47"><stop offset="0.000" stop-color="#231f20"/><stop offset="0.036" stop-color="#b73e2b"/><stop offset="0.071" stop-color="#e99b42"/><stop offset="0.107" stop-color="#f6dc6e"/><stop offset="0.143" stop-color="#fbf4b9"/><stop offset="0.179" stop-color="#fffef0"/><stop offset="0.214" stop-color="#fffef0"/><stop offset="0.250" stop-color="#fffef0"/><stop offset="0.286" stop-color="#fffef0"/><stop offset="0.321" stop-color="#fffef0"/><stop offset="0.357" stop-color="#fffef0"/><stop offset="0.393" stop-color="#fffef0"/><stop offset="0.429" stop-color="#fffef0"/><stop offset="0.464" stop-color="#fffef0"/><stop offset="0.500" stop-color="#fffef0"/><stop offset="0.536" stop-color="#fffef0"/><stop offset="0.571" stop-color="#fffef0"/><stop offset="0.607" stop-color="#fffef0"/><stop offset="0.643" stop-color="#fffef0"/><stop offset="0.679" stop-color="#fffef0"/><stop offset="0.714" stop-color="#fffef0"/><stop offset="0.750" stop-color="#fffef0"/><stop offset="0.786" stop-color="#fffef0"/><stop offset="0.821" stop-color="#fffef0"/><stop offset="0.857" stop-color="#fbf4b9"/><stop offset="0.893" stop-color="#f6dc6e"/><stop offset="0.929" stop-color="#e99b42"/><stop offset="0.964" stop-color="#b73e2b"/><stop offset="1.000" stop-color="#231f20"/></linearGradient><filter id="vblur" x="0" y="0" width="1" height="1" color-interpolation-filters="sRGB"><feGaussianBlur stdDeviation="0.6 0.55"/></filter><clipPath id="hclip"><rect x="123" y="20" width="657" height="520"/></clipPath><clipPath id="bclip"><rect x="120" y="653" width="679" height="514"/></clipPath></defs>
<rect width="827" height="1291" fill="#fff"/>
<g clip-path="url(#hclip)"><g filter="url(#vblur)"><rect x="123" y="20" width="657" height="520" fill="#231f20"/><rect x="123" y="75.0" width="657" height="1" fill="#302c2c"/><rect x="123" y="178.0" width="657" height="1" fill="#302c2c"/><rect x="123" y="281.5" width="657" height="1" fill="#302c2c"/><rect x="123" y="385.0" width="657" height="1" fill="#302c2c"/><rect x="123" y="488.0" width="657" height="1" fill="#302c2c"/><rect x="231.1" y="20.0" width="116.0" height="1" fill="url(#g19)"/><rect x="212.1" y="21.0" width="149.3" height="1" fill="url(#g25)"/><rect x="206.3" y="22.0" width="151.2" height="1" fill="url(#g25)"/><rect x="207.8" y="23.0" width="149.7" height="1" fill="url(#g26)"/><rect x="222.7" y="24.0" width="133.3" height="1" fill="url(#g23)"/><rect x="228.2" y="25.0" width="114.4" height="1" fill="url(#g13)"/><rect x="255.4" y="26.0" width="69.8" height="1" fill="url(#g10)"/><rect x="245.9" y="27.0" width="86.4" height="1" fill="url(#g10)"/><rect x="233.5" y="28.0" width="106.5" height="1" fill="url(#g14)"/><rect x="233.9" y="29.0" width="110.5" height="1" fill="url(#g15)"/><rect x="240.1" y="30.0" width="98.9" height="1" fill="url(#g11)"/><rect x="249.7" y="31.0" width="82.5" height="1" fill="url(#g5)"/><rect x="242.4" y="43.0" width="90.4" height="1" fill="url(#g6)"/><rect x="239.6" y="44.0" width="91.1" height="1" fill="url(#g13)"/><rect x="213.8" y="45.0" width="132.0" height="1" fill="url(#g19)"/><rect x="215.3" y="46.0" width="140.9" height="1" fill="url(#g23)"/><rect x="212.4" y="47.0" width="148.6" height="1" fill="url(#g29)"/><rect x="215.7" y="48.0" width="153.0" height="1" fill="url(#g28)"/><rect x="203.8" y="49.0" width="158.0" height="1" fill="url(#g25)"/><rect x="223.5" y="50.0" width="121.2" height="1" fill="url(#g20)"/><rect x="220.5" y="51.0" width="114.7" height="1" fill="url(#g12)"/><rect x="244.8" y="52.0" width="71.7" height="1" fill="url(#g4)"/><rect x="248.7" y="53.0" width="93.1" height="1" fill="url(#g9)"/><rect x="240.2" y="54.0" width="109.7" height="1" fill="url(#g13)"/><rect x="245.5" y="55.0" width="103.2" height="1" fill="url(#g12)"/><rect x="253.3" y="56.0" width="83.2" height="1" fill="url(#g5)"/><rect x="257.3" y="58.0" width="76.1" height="1" fill="url(#g7)"/><rect x="249.7" y="59.0" width="87.6" height="1" fill="url(#g9)"/><rect x="259.9" y="60.0" width="68.6" height="1" fill="url(#g4)"/><rect x="257.6" y="96.0" width="53.1" height="1" fill="url(#g4)"/><rect x="254.0" y="97.0" width="65.5" height="1" fill="url(#g9)"/><rect x="252.7" y="98.0" width="67.2" height="1" fill="url(#g9)"/><rect x="260.7" y="99.0" width="53.2" height="1" fill="url(#g4)"/><rect x="241.0" y="105.0" width="94.9" height="1" fill="url(#g5)"/><rect x="231.1" y="106.0" width="98.7" height="1" fill="url(#g9)"/><rect x="221.6" y="107.0" width="119.2" height="1" fill="url(#g16)"/><rect x="208.6" y="108.0" width="147.1" height="1" fill="url(#g22)"/><rect x="212.0" y="109.0" width="147.2" height="1" fill="url(#g26)"/><rect x="206.5" y="110.0" width="154.1" height="1" fill="url(#g28)"/><rect x="208.6" y="111.0" width="158.4" height="1" fill="url(#g27)"/><rect x="203.2" y="112.0" width="174.5" height="1" fill="url(#g16)"/><rect x="203.2" y="113.0" width="166.9" height="1" fill="url(#g23)"/><rect x="211.5" y="114.0" width="173.0" height="1" fill="url(#g22)"/><rect x="201.5" y="115.0" width="171.2" height="1" fill="url(#g31)"/><rect x="209.4" y="116.0" width="162.0" height="1" fill="url(#g29)"/><rect x="215.1" y="117.0" width="167.6" height="1" fill="url(#g27)"/><rect x="209.1" y="118.0" width="165.5" height="1" fill="url(#g32)"/><rect x="192.6" y="119.0" width="175.9" height="1" fill="url(#g31)"/><rect x="204.1" y="120.0" width="180.7" height="1" fill="url(#g28)"/><rect x="216.2" y="121.0" width="169.7" height="1" fill="url(#g26)"/><rect x="203.3" y="122.0" width="166.9" height="1" fill="url(#g26)"/><rect x="212.7" y="123.0" width="168.4" height="1" fill="url(#g27)"/><rect x="215.7" y="124.0" width="149.6" height="1" fill="url(#g27)"/><rect x="221.8" y="125.0" width="147.8" height="1" fill="url(#g23)"/><rect x="225.3" y="126.0" width="134.9" height="1" fill="url(#g21)"/><rect x="219.6" y="127.0" width="137.9" height="1" fill="url(#g22)"/><rect x="220.5" y="128.0" width="123.5" height="1" fill="url(#g17)"/><rect x="245.4" y="129.0" width="84.3" height="1" fill="url(#g9)"/><rect x="247.0" y="130.0" width="84.9" height="1" fill="url(#g5)"/><rect x="244.2" y="153.0" width="69.3" height="1" fill="url(#g4)"/><rect x="238.1" y="154.0" width="86.6" height="1" fill="url(#g10)"/><rect x="232.8" y="155.0" width="99.2" height="1" fill="url(#g13)"/><rect x="235.6" y="156.0" width="88.9" height="1" fill="url(#g10)"/><rect x="243.2" y="157.0" width="74.8" height="1" fill="url(#g4)"/><rect x="242.7" y="194.0" width="62.4" height="1" fill="url(#g4)"/><rect x="235.8" y="195.0" width="77.6" height="1" fill="url(#g10)"/><rect x="235.1" y="196.0" width="82.2" height="1" fill="url(#g12)"/><rect x="237.4" y="197.0" width="76.7" height="1" fill="url(#g10)"/><rect x="241.0" y="198.0" width="65.9" height="1" fill="url(#g4)"/><rect x="259.2" y="206.0" width="54.7" height="1" fill="url(#g4)"/><rect x="256.1" y="207.0" width="63.6" height="1" fill="url(#g8)"/><rect x="253.9" y="208.0" width="66.3" height="1" fill="url(#g10)"/><rect x="261.4" y="209.0" width="51.4" height="1" fill="url(#g6)"/><rect x="224.4" y="240.0" width="131.1" height="1" fill="url(#g5)"/><rect x="230.7" y="241.0" width="131.9" height="1" fill="url(#g10)"/><rect x="220.7" y="242.0" width="141.6" height="1" fill="url(#g16)"/><rect x="214.0" y="243.0" width="152.3" height="1" fill="url(#g24)"/><rect x="216.6" y="244.0" width="163.4" height="1" fill="url(#g30)"/><rect x="218.2" y="245.0" width="163.4" height="1" fill="url(#g28)"/><rect x="203.8" y="246.0" width="162.2" height="1" fill="url(#g16)"/><rect x="217.6" y="247.0" width="155.7" height="1" fill="url(#g19)"/><rect x="213.3" y="248.0" width="151.4" height="1" fill="url(#g24)"/><rect x="199.2" y="249.0" width="184.0" height="1" fill="url(#g32)"/><rect x="211.7" y="250.0" width="173.6" height="1" fill="url(#g31)"/><rect x="205.6" y="251.0" width="169.2" height="1" fill="url(#g29)"/><rect x="211.6" y="252.0" width="150.8" height="1" fill="url(#g25)"/><rect x="200.4" y="253.0" width="163.2" height="1" fill="url(#g23)"/><rect x="194.4" y="254.0" width="187.5" height="1" fill="url(#g27)"/><rect x="190.7" y="255.0" width="183.6" height="1" fill="url(#g32)"/><rect x="193.2" y="256.0" width="176.5" height="1" fill="url(#g28)"/><rect x="205.4" y="257.0" width="165.9" height="1" fill="url(#g30)"/><rect x="203.1" y="258.0" width="178.0" height="1" fill="url(#g29)"/><rect x="199.4" y="259.0" width="170.9" height="1" fill="url(#g21)"/><rect x="208.0" y="260.0" width="158.3" height="1" fill="url(#g30)"/><rect x="210.1" y="261.0" width="153.2" height="1" fill="url(#g17)"/><rect x="211.8" y="262.0" width="141.3" height="1" fill="url(#g11)"/><rect x="200.0" y="263.0" width="160.3" height="1" fill="url(#g20)"/><rect x="195.1" y="264.0" width="176.1" height="1" fill="url(#g26)"/><rect x="197.9" y="265.0" width="173.2" height="1" fill="url(#g31)"/><rect x="188.8" y="266.0" width="193.6" height="1" fill="url(#g18)"/><rect x="197.2" y="267.0" width="191.3" height="1" fill="url(#g29)"/><rect x="202.7" y="268.0" width="173.8" height="1" fill="url(#g22)"/><rect x="208.6" y="269.0" width="166.0" height="1" fill="url(#g20)"/><rect x="211.7" y="270.0" width="168.0" height="1" fill="url(#g26)"/><rect x="198.7" y="271.0" width="172.2" height="1" fill="url(#g29)"/><rect x="193.7" y="272.0" width="177.0" height="1" fill="url(#g21)"/><rect x="207.3" y="273.0" width="172.1" height="1" fill="url(#g27)"/><rect x="206.1" y="274.0" width="163.6" height="1" fill="url(#g20)"/><rect x="210.3" y="275.0" width="162.3" height="1" fill="url(#g11)"/><rect x="202.1" y="276.0" width="180.3" height="1" fill="url(#g23)"/><rect x="188.8" y="277.0" width="189.8" height="1" fill="url(#g29)"/><rect x="189.9" y="278.0" width="190.1" height="1" fill="url(#g32)"/><rect x="188.3" y="279.0" width="189.4" height="1" fill="url(#g29)"/><rect x="192.0" y="280.0" width="188.0" height="1" fill="url(#g18)"/><rect x="206.2" y="281.0" width="172.6" height="1" fill="url(#g26)"/><rect x="205.9" y="282.0" width="175.2" height="1" fill="url(#g22)"/><rect x="207.4" y="283.0" width="159.7" height="1" fill="url(#g24)"/><rect x="203.9" y="284.0" width="177.6" height="1" fill="url(#g32)"/><rect x="201.1" y="285.0" width="178.9" height="1" fill="url(#g33)"/><rect x="207.6" y="286.0" width="173.0" height="1" fill="url(#g33)"/><rect x="210.8" y="287.0" width="158.2" height="1" fill="url(#g28)"/><rect x="213.3" y="288.0" width="141.3" height="1" fill="url(#g14)"/><rect x="217.3" y="289.0" width="147.1" height="1" fill="url(#g16)"/><rect x="195.6" y="290.0" width="184.3" height="1" fill="url(#g27)"/><rect x="199.6" y="291.0" width="183.0" height="1" fill="url(#g32)"/><rect x="195.5" y="292.0" width="174.7" height="1" fill="url(#g29)"/><rect x="194.7" y="293.0" width="185.0" height="1" fill="url(#g29)"/><rect x="202.7" y="294.0" width="169.5" height="1" fill="url(#g27)"/><rect x="212.8" y="295.0" width="157.9" height="1" fill="url(#g21)"/><rect x="202.9" y="296.0" width="174.3" height="1" fill="url(#g24)"/><rect x="192.2" y="297.0" width="175.4" height="1" fill="url(#g29)"/><rect x="205.2" y="298.0" width="171.5" height="1" fill="url(#g29)"/><rect x="208.3" y="299.0" width="161.6" height="1" fill="url(#g24)"/><rect x="206.8" y="300.0" width="169.0" height="1" fill="url(#g19)"/><rect x="215.0" y="301.0" width="166.3" height="1" fill="url(#g18)"/><rect x="202.1" y="302.0" width="182.5" height="1" fill="url(#g29)"/><rect x="199.7" y="303.0" width="174.6" height="1" fill="url(#g26)"/><rect x="217.5" y="304.0" width="149.6" height="1" fill="url(#g25)"/><rect x="215.0" y="305.0" width="153.2" height="1" fill="url(#g18)"/><rect x="225.1" y="306.0" width="128.7" height="1" fill="url(#g5)"/><rect x="225.1" y="307.0" width="121.6" height="1" fill="url(#g5)"/><rect x="248.7" y="315.0" width="79.2" height="1" fill="url(#g5)"/><rect x="241.3" y="316.0" width="96.8" height="1" fill="url(#g10)"/><rect x="241.6" y="317.0" width="97.8" height="1" fill="url(#g13)"/><rect x="244.3" y="318.0" width="93.9" height="1" fill="url(#g9)"/><rect x="251.7" y="319.0" width="75.9" height="1" fill="url(#g4)"/><rect x="256.8" y="327.0" width="66.2" height="1" fill="url(#g3)"/><rect x="249.6" y="328.0" width="85.8" height="1" fill="url(#g8)"/><rect x="249.7" y="329.0" width="84.2" height="1" fill="url(#g8)"/><rect x="258.5" y="330.0" width="69.7" height="1" fill="url(#g5)"/><rect x="225.8" y="331.0" width="107.2" height="1" fill="url(#g7)"/><rect x="216.6" y="332.0" width="111.9" height="1" fill="url(#g14)"/><rect x="206.4" y="333.0" width="142.1" height="1" fill="url(#g21)"/><rect x="184.6" y="334.0" width="171.4" height="1" fill="url(#g20)"/><rect x="188.6" y="335.0" width="183.1" height="1" fill="url(#g28)"/><rect x="179.6" y="336.0" width="188.1" height="1" fill="url(#g28)"/><rect x="177.3" y="337.0" width="179.2" height="1" fill="url(#g25)"/><rect x="180.4" y="338.0" width="185.5" height="1" fill="url(#g24)"/><rect x="175.7" y="339.0" width="181.4" height="1" fill="url(#g28)"/><rect x="172.0" y="340.0" width="185.5" height="1" fill="url(#g27)"/><rect x="190.5" y="341.0" width="174.9" height="1" fill="url(#g27)"/><rect x="192.6" y="342.0" width="162.0" height="1" fill="url(#g25)"/><rect x="210.1" y="343.0" width="128.9" height="1" fill="url(#g12)"/><rect x="221.6" y="344.0" width="106.0" height="1" fill="url(#g12)"/><rect x="223.8" y="345.0" width="96.6" height="1" fill="url(#g6)"/><rect x="254.8" y="350.0" width="74.0" height="1" fill="url(#g5)"/><rect x="242.3" y="351.0" width="94.7" height="1" fill="url(#g9)"/><rect x="239.3" y="352.0" width="101.7" height="1" fill="url(#g13)"/><rect x="243.7" y="353.0" width="94.5" height="1" fill="url(#g9)"/><rect x="254.6" y="354.0" width="76.3" height="1" fill="url(#g7)"/><rect x="249.7" y="355.0" width="77.6" height="1" fill="url(#g9)"/><rect x="252.2" y="356.0" width="78.6" height="1" fill="url(#g8)"/><rect x="260.2" y="357.0" width="62.8" height="1" fill="url(#g4)"/><rect x="259.7" y="371.0" width="58.9" height="1" fill="url(#g4)"/><rect x="250.1" y="372.0" width="80.3" height="1" fill="url(#g9)"/><rect x="250.0" y="373.0" width="76.7" height="1" fill="url(#g9)"/><rect x="259.6" y="374.0" width="62.0" height="1" fill="url(#g4)"/><rect x="256.7" y="383.0" width="64.5" height="1" fill="url(#g3)"/><rect x="250.3" y="384.0" width="76.6" height="1" fill="url(#g8)"/><rect x="248.3" y="385.0" width="78.6" height="1" fill="url(#g8)"/><rect x="261.1" y="386.0" width="60.2" height="1" fill="url(#g4)"/><rect x="245.6" y="393.0" width="62.6" height="1" fill="url(#g5)"/><rect x="240.7" y="394.0" width="77.4" height="1" fill="url(#g10)"/><rect x="233.2" y="395.0" width="86.7" height="1" fill="url(#g11)"/><rect x="240.5" y="396.0" width="71.5" height="1" fill="url(#g8)"/><rect x="252.0" y="397.0" width="56.4" height="1" fill="url(#g6)"/><rect x="242.2" y="398.0" width="74.1" height="1" fill="url(#g9)"/><rect x="238.4" y="399.0" width="82.8" height="1" fill="url(#g11)"/><rect x="245.7" y="400.0" width="66.8" height="1" fill="url(#g7)"/><rect x="246.1" y="418.0" width="80.5" height="1" fill="url(#g7)"/><rect x="227.2" y="419.0" width="122.9" height="1" fill="url(#g12)"/><rect x="213.7" y="420.0" width="138.4" height="1" fill="url(#g19)"/><rect x="203.3" y="421.0" width="154.3" height="1" fill="url(#g26)"/><rect x="197.4" y="422.0" width="157.4" height="1" fill="url(#g26)"/><rect x="211.0" y="423.0" width="161.6" height="1" fill="url(#g26)"/><rect x="217.9" y="424.0" width="144.5" height="1" fill="url(#g24)"/><rect x="217.9" y="425.0" width="133.6" height="1" fill="url(#g18)"/><rect x="204.6" y="426.0" width="155.9" height="1" fill="url(#g24)"/><rect x="197.1" y="427.0" width="182.6" height="1" fill="url(#g17)"/><rect x="192.2" y="428.0" width="179.6" height="1" fill="url(#g27)"/><rect x="196.9" y="429.0" width="165.2" height="1" fill="url(#g29)"/><rect x="212.8" y="430.0" width="145.5" height="1" fill="url(#g23)"/><rect x="201.4" y="431.0" width="157.2" height="1" fill="url(#g19)"/><rect x="194.6" y="432.0" width="160.5" height="1" fill="url(#g25)"/><rect x="195.1" y="433.0" width="176.2" height="1" fill="url(#g26)"/><rect x="197.4" y="434.0" width="180.7" height="1" fill="url(#g31)"/><rect x="210.0" y="435.0" width="153.5" height="1" fill="url(#g28)"/><rect x="221.8" y="436.0" width="140.4" height="1" fill="url(#g18)"/><rect x="222.0" y="437.0" width="140.1" height="1" fill="url(#g13)"/><rect x="225.1" y="438.0" width="118.1" height="1" fill="url(#g13)"/><rect x="231.6" y="439.0" width="107.6" height="1" fill="url(#g6)"/><rect x="247.6" y="447.0" width="78.1" height="1" fill="url(#g5)"/><rect x="238.5" y="448.0" width="91.6" height="1" fill="url(#g10)"/><rect x="236.4" y="449.0" width="96.0" height="1" fill="url(#g12)"/><rect x="241.4" y="450.0" width="86.8" height="1" fill="url(#g9)"/><rect x="245.3" y="451.0" width="76.8" height="1" fill="url(#g4)"/><rect x="259.3" y="464.0" width="70.9" height="1" fill="url(#g4)"/><rect x="248.5" y="465.0" width="85.2" height="1" fill="url(#g10)"/><rect x="244.8" y="466.0" width="96.0" height="1" fill="url(#g11)"/><rect x="247.7" y="467.0" width="87.7" height="1" fill="url(#g9)"/><rect x="257.6" y="468.0" width="71.8" height="1" fill="url(#g4)"/><rect x="265.0" y="482.0" width="49.3" height="1" fill="url(#g4)"/><rect x="257.2" y="483.0" width="64.5" height="1" fill="url(#g8)"/><rect x="256.2" y="484.0" width="67.0" height="1" fill="url(#g10)"/><rect x="257.0" y="485.0" width="62.3" height="1" fill="url(#g7)"/><rect x="264.0" y="486.0" width="50.5" height="1" fill="url(#g4)"/><rect x="248.0" y="497.0" width="80.1" height="1" fill="url(#g4)"/><rect x="256.5" y="498.0" width="69.4" height="1" fill="url(#g9)"/><rect x="238.9" y="499.0" width="120.2" height="1" fill="url(#g15)"/><rect x="213.9" y="500.0" width="143.6" height="1" fill="url(#g20)"/><rect x="220.9" y="501.0" width="144.0" height="1" fill="url(#g28)"/><rect x="207.3" y="502.0" width="169.1" height="1" fill="url(#g29)"/><rect x="212.2" y="503.0" width="154.7" height="1" fill="url(#g21)"/><rect x="207.4" y="504.0" width="155.0" height="1" fill="url(#g25)"/><rect x="211.8" y="505.0" width="138.9" height="1" fill="url(#g22)"/><rect x="220.6" y="506.0" width="125.4" height="1" fill="url(#g15)"/><rect x="245.0" y="507.0" width="79.9" height="1" fill="url(#g9)"/><rect x="248.6" y="508.0" width="85.8" height="1" fill="url(#g6)"/><rect x="238.4" y="509.0" width="88.6" height="1" fill="url(#g7)"/><rect x="234.0" y="510.0" width="101.1" height="1" fill="url(#g12)"/><rect x="213.8" y="511.0" width="142.8" height="1" fill="url(#g20)"/><rect x="198.5" y="512.0" width="166.3" height="1" fill="url(#g27)"/><rect x="197.0" y="513.0" width="174.1" height="1" fill="url(#g20)"/><rect x="199.8" y="514.0" width="156.7" height="1" fill="url(#g23)"/><rect x="206.4" y="515.0" width="160.1" height="1" fill="url(#g18)"/><rect x="196.9" y="516.0" width="169.0" height="1" fill="url(#g22)"/><rect x="194.1" y="517.0" width="184.2" height="1" fill="url(#g26)"/><rect x="199.6" y="518.0" width="182.3" height="1" fill="url(#g27)"/><rect x="205.4" y="519.0" width="166.4" height="1" fill="url(#g22)"/><rect x="195.7" y="520.0" width="181.3" height="1" fill="url(#g26)"/><rect x="190.5" y="521.0" width="183.3" height="1" fill="url(#g29)"/><rect x="207.1" y="522.0" width="163.4" height="1" fill="url(#g26)"/><rect x="207.7" y="523.0" width="149.6" height="1" fill="url(#g21)"/><rect x="222.5" y="524.0" width="131.6" height="1" fill="url(#g10)"/><rect x="239.6" y="525.0" width="82.9" height="1" fill="url(#g9)"/><rect x="237.5" y="526.0" width="91.4" height="1" fill="url(#g4)"/><rect x="585.3" y="23.0" width="75.5" height="1" fill="url(#g4)"/><rect x="578.5" y="24.0" width="91.1" height="1" fill="url(#g9)"/><rect x="555.5" y="25.0" width="128.0" height="1" fill="url(#g17)"/><rect x="549.3" y="26.0" width="145.7" height="1" fill="url(#g24)"/><rect x="554.3" y="27.0" width="129.4" height="1" fill="url(#g25)"/><rect x="555.8" y="28.0" width="116.3" height="1" fill="url(#g20)"/><rect x="561.2" y="29.0" width="95.6" height="1" fill="url(#g12)"/><rect x="559.1" y="30.0" width="116.3" height="1" fill="url(#g16)"/><rect x="545.0" y="31.0" width="149.5" height="1" fill="url(#g23)"/><rect x="551.6" y="32.0" width="146.1" height="1" fill="url(#g26)"/><rect x="552.1" y="33.0" width="142.0" height="1" fill="url(#g29)"/><rect x="537.9" y="34.0" width="158.7" height="1" fill="url(#g25)"/><rect x="548.9" y="35.0" width="133.0" height="1" fill="url(#g14)"/><rect x="548.0" y="36.0" width="134.8" height="1" fill="url(#g25)"/><rect x="531.9" y="37.0" width="156.9" height="1" fill="url(#g28)"/><rect x="525.3" y="38.0" width="162.2" height="1" fill="url(#g28)"/><rect x="540.9" y="39.0" width="157.5" height="1" fill="url(#g23)"/><rect x="535.9" y="40.0" width="154.6" height="1" fill="url(#g20)"/><rect x="548.3" y="41.0" width="143.1" height="1" fill="url(#g25)"/><rect x="535.2" y="42.0" width="165.5" height="1" fill="url(#g27)"/><rect x="550.9" y="43.0" width="132.6" height="1" fill="url(#g25)"/><rect x="552.0" y="44.0" width="131.2" height="1" fill="url(#g21)"/><rect x="567.9" y="45.0" width="92.6" height="1" fill="url(#g12)"/><rect x="576.8" y="46.0" width="90.6" height="1" fill="url(#g7)"/><rect x="593.8" y="51.0" width="74.9" height="1" fill="url(#g5)"/><rect x="569.0" y="52.0" width="105.5" height="1" fill="url(#g9)"/><rect x="563.3" y="53.0" width="128.1" height="1" fill="url(#g17)"/><rect x="549.8" y="54.0" width="145.5" height="1" fill="url(#g24)"/><rect x="542.8" y="55.0" width="150.2" height="1" fill="url(#g26)"/><rect x="547.2" y="56.0" width="148.4" height="1" fill="url(#g23)"/><rect x="565.8" y="57.0" width="127.6" height="1" fill="url(#g19)"/><rect x="552.3" y="58.0" width="126.1" height="1" fill="url(#g17)"/><rect x="538.6" y="59.0" width="143.8" height="1" fill="url(#g24)"/><rect x="544.2" y="60.0" width="149.9" height="1" fill="url(#g27)"/><rect x="539.0" y="61.0" width="159.1" height="1" fill="url(#g21)"/><rect x="544.6" y="62.0" width="163.5" height="1" fill="url(#g32)"/><rect x="526.6" y="63.0" width="180.2" height="1" fill="url(#g30)"/><rect x="522.0" y="64.0" width="190.1" height="1" fill="url(#g31)"/><rect x="539.1" y="65.0" width="161.4" height="1" fill="url(#g29)"/><rect x="533.9" y="66.0" width="174.5" height="1" fill="url(#g30)"/><rect x="528.2" y="67.0" width="175.2" height="1" fill="url(#g34)"/><rect x="536.5" y="68.0" width="174.7" height="1" fill="url(#g30)"/><rect x="537.6" y="69.0" width="170.5" height="1" fill="url(#g29)"/><rect x="526.7" y="70.0" width="173.1" height="1" fill="url(#g33)"/><rect x="534.9" y="71.0" width="175.5" height="1" fill="url(#g20)"/><rect x="526.6" y="72.0" width="183.5" height="1" fill="url(#g33)"/><rect x="529.9" y="73.0" width="174.3" height="1" fill="url(#g31)"/><rect x="524.2" y="74.0" width="191.5" height="1" fill="url(#g32)"/><rect x="523.1" y="75.0" width="192.6" height="1" fill="url(#g29)"/><rect x="524.7" y="76.0" width="194.0" height="1" fill="url(#g33)"/><rect x="537.2" y="77.0" width="176.9" height="1" fill="url(#g30)"/><rect x="541.9" y="78.0" width="167.8" height="1" fill="url(#g33)"/><rect x="540.5" y="79.0" width="167.3" height="1" fill="url(#g34)"/><rect x="528.6" y="80.0" width="174.0" height="1" fill="url(#g34)"/><rect x="522.3" y="81.0" width="175.1" height="1" fill="url(#g27)"/><rect x="525.0" y="82.0" width="173.4" height="1" fill="url(#g31)"/><rect x="531.8" y="83.0" width="178.4" height="1" fill="url(#g23)"/><rect x="528.0" y="84.0" width="187.6" height="1" fill="url(#g25)"/><rect x="520.9" y="85.0" width="196.9" height="1" fill="url(#g36)"/><rect x="520.2" y="86.0" width="184.1" height="1" fill="url(#g36)"/><rect x="535.0" y="87.0" width="174.7" height="1" fill="url(#g25)"/><rect x="528.0" y="88.0" width="171.6" height="1" fill="url(#g35)"/><rect x="525.8" y="89.0" width="174.6" height="1" fill="url(#g30)"/><rect x="531.3" y="90.0" width="173.1" height="1" fill="url(#g17)"/><rect x="550.2" y="91.0" width="147.6" height="1" fill="url(#g21)"/><rect x="530.8" y="92.0" width="168.0" height="1" fill="url(#g28)"/><rect x="530.8" y="93.0" width="176.1" height="1" fill="url(#g30)"/><rect x="547.4" y="94.0" width="142.8" height="1" fill="url(#g25)"/><rect x="538.0" y="95.0" width="146.0" height="1" fill="url(#g19)"/><rect x="532.6" y="96.0" width="158.9" height="1" fill="url(#g23)"/><rect x="537.1" y="97.0" width="154.4" height="1" fill="url(#g23)"/><rect x="545.6" y="98.0" width="149.5" height="1" fill="url(#g20)"/><rect x="558.4" y="99.0" width="139.7" height="1" fill="url(#g21)"/><rect x="542.3" y="100.0" width="165.8" height="1" fill="url(#g21)"/><rect x="550.0" y="101.0" width="151.3" height="1" fill="url(#g21)"/><rect x="553.6" y="102.0" width="144.0" height="1" fill="url(#g24)"/><rect x="540.4" y="103.0" width="174.4" height="1" fill="url(#g18)"/><rect x="554.6" y="104.0" width="146.1" height="1" fill="url(#g25)"/><rect x="562.9" y="105.0" width="137.8" height="1" fill="url(#g19)"/><rect x="565.4" y="106.0" width="113.1" height="1" fill="url(#g13)"/><rect x="584.6" y="107.0" width="78.9" height="1" fill="url(#g7)"/><rect x="561.8" y="126.0" width="110.2" height="1" fill="url(#g4)"/><rect x="551.9" y="127.0" width="123.5" height="1" fill="url(#g9)"/><rect x="556.3" y="128.0" width="124.8" height="1" fill="url(#g15)"/><rect x="541.9" y="129.0" width="153.2" height="1" fill="url(#g20)"/><rect x="532.5" y="130.0" width="178.4" height="1" fill="url(#g23)"/><rect x="527.2" y="131.0" width="176.3" height="1" fill="url(#g22)"/><rect x="539.6" y="132.0" width="162.9" height="1" fill="url(#g28)"/><rect x="533.2" y="133.0" width="160.4" height="1" fill="url(#g20)"/><rect x="548.6" y="134.0" width="150.4" height="1" fill="url(#g12)"/><rect x="540.4" y="135.0" width="153.6" height="1" fill="url(#g21)"/><rect x="540.5" y="136.0" width="171.9" height="1" fill="url(#g26)"/><rect x="540.7" y="137.0" width="166.1" height="1" fill="url(#g26)"/><rect x="544.5" y="138.0" width="167.5" height="1" fill="url(#g24)"/><rect x="545.2" y="139.0" width="161.2" height="1" fill="url(#g22)"/><rect x="547.0" y="140.0" width="143.8" height="1" fill="url(#g18)"/><rect x="544.1" y="141.0" width="159.2" height="1" fill="url(#g22)"/><rect x="534.3" y="142.0" width="175.6" height="1" fill="url(#g26)"/><rect x="541.8" y="143.0" width="160.5" height="1" fill="url(#g28)"/><rect x="532.6" y="144.0" width="174.0" height="1" fill="url(#g29)"/><rect x="528.2" y="145.0" width="182.9" height="1" fill="url(#g19)"/><rect x="533.7" y="146.0" width="166.4" height="1" fill="url(#g18)"/><rect x="544.3" y="147.0" width="153.7" height="1" fill="url(#g13)"/><rect x="535.4" y="148.0" width="178.1" height="1" fill="url(#g23)"/><rect x="529.6" y="149.0" width="187.1" height="1" fill="url(#g26)"/><rect x="528.7" y="150.0" width="172.5" height="1" fill="url(#g25)"/><rect x="525.7" y="151.0" width="174.9" height="1" fill="url(#g21)"/><rect x="535.0" y="152.0" width="159.4" height="1" fill="url(#g18)"/><rect x="544.4" y="153.0" width="159.1" height="1" fill="url(#g21)"/><rect x="531.6" y="154.0" width="171.2" height="1" fill="url(#g25)"/><rect x="537.5" y="155.0" width="173.7" height="1" fill="url(#g25)"/><rect x="529.7" y="156.0" width="187.6" height="1" fill="url(#g24)"/><rect x="548.2" y="157.0" width="159.5" height="1" fill="url(#g15)"/><rect x="547.8" y="158.0" width="142.2" height="1" fill="url(#g13)"/><rect x="544.5" y="159.0" width="153.7" height="1" fill="url(#g24)"/><rect x="531.5" y="160.0" width="170.3" height="1" fill="url(#g27)"/><rect x="525.6" y="161.0" width="177.9" height="1" fill="url(#g27)"/><rect x="527.4" y="162.0" width="184.6" height="1" fill="url(#g28)"/><rect x="539.3" y="163.0" width="178.4" height="1" fill="url(#g29)"/><rect x="546.2" y="164.0" width="167.2" height="1" fill="url(#g22)"/><rect x="545.1" y="165.0" width="148.0" height="1" fill="url(#g19)"/><rect x="540.0" y="166.0" width="158.2" height="1" fill="url(#g22)"/><rect x="526.3" y="167.0" width="188.0" height="1" fill="url(#g27)"/><rect x="537.0" y="168.0" width="181.5" height="1" fill="url(#g29)"/><rect x="533.7" y="169.0" width="185.5" height="1" fill="url(#g29)"/><rect x="537.6" y="170.0" width="181.9" height="1" fill="url(#g30)"/><rect x="537.5" y="171.0" width="175.7" height="1" fill="url(#g23)"/><rect x="541.1" y="172.0" width="157.5" height="1" fill="url(#g20)"/><rect x="535.3" y="173.0" width="160.6" height="1" fill="url(#g24)"/><rect x="530.2" y="174.0" width="177.9" height="1" fill="url(#g29)"/><rect x="518.9" y="175.0" width="199.4" height="1" fill="url(#g30)"/><rect x="530.0" y="176.0" width="190.6" height="1" fill="url(#g30)"/><rect x="539.0" y="177.0" width="166.1" height="1" fill="url(#g29)"/><rect x="521.7" y="178.0" width="190.9" height="1" fill="url(#g31)"/><rect x="523.7" y="179.0" width="198.5" height="1" fill="url(#g31)"/><rect x="536.0" y="180.0" width="168.7" height="1" fill="url(#g30)"/><rect x="527.4" y="181.0" width="190.4" height="1" fill="url(#g31)"/><rect x="529.2" y="182.0" width="189.8" height="1" fill="url(#g29)"/><rect x="528.5" y="183.0" width="185.3" height="1" fill="url(#g27)"/><rect x="541.3" y="184.0" width="163.7" height="1" fill="url(#g26)"/><rect x="540.8" y="185.0" width="170.9" height="1" fill="url(#g20)"/><rect x="531.7" y="186.0" width="173.1" height="1" fill="url(#g25)"/><rect x="532.2" y="187.0" width="184.3" height="1" fill="url(#g28)"/><rect x="537.7" y="188.0" width="176.6" height="1" fill="url(#g28)"/><rect x="520.8" y="189.0" width="185.3" height="1" fill="url(#g28)"/><rect x="530.3" y="190.0" width="186.3" height="1" fill="url(#g33)"/><rect x="531.8" y="191.0" width="184.0" height="1" fill="url(#g32)"/><rect x="533.6" y="192.0" width="173.3" height="1" fill="url(#g31)"/><rect x="536.2" y="193.0" width="165.5" height="1" fill="url(#g30)"/><rect x="544.1" y="194.0" width="164.0" height="1" fill="url(#g18)"/><rect x="551.7" y="195.0" width="147.8" height="1" fill="url(#g15)"/><rect x="543.6" y="196.0" width="150.8" height="1" fill="url(#g15)"/><rect x="543.1" y="197.0" width="153.8" height="1" fill="url(#g25)"/><rect x="538.6" y="198.0" width="171.7" height="1" fill="url(#g18)"/><rect x="521.3" y="199.0" width="187.8" height="1" fill="url(#g32)"/><rect x="537.4" y="200.0" width="173.0" height="1" fill="url(#g30)"/><rect x="525.4" y="201.0" width="178.5" height="1" fill="url(#g22)"/><rect x="521.6" y="202.0" width="196.7" height="1" fill="url(#g20)"/><rect x="525.2" y="203.0" width="172.4" height="1" fill="url(#g23)"/><rect x="541.9" y="204.0" width="151.0" height="1" fill="url(#g21)"/><rect x="540.5" y="205.0" width="170.5" height="1" fill="url(#g24)"/><rect x="536.5" y="206.0" width="174.2" height="1" fill="url(#g23)"/><rect x="541.0" y="207.0" width="174.8" height="1" fill="url(#g34)"/><rect x="539.3" y="208.0" width="164.2" height="1" fill="url(#g21)"/><rect x="525.3" y="209.0" width="191.4" height="1" fill="url(#g31)"/><rect x="530.4" y="210.0" width="180.7" height="1" fill="url(#g21)"/><rect x="536.6" y="211.0" width="171.4" height="1" fill="url(#g33)"/><rect x="531.8" y="212.0" width="174.1" height="1" fill="url(#g31)"/><rect x="545.4" y="213.0" width="156.8" height="1" fill="url(#g23)"/><rect x="551.9" y="214.0" width="149.9" height="1" fill="url(#g10)"/><rect x="551.1" y="215.0" width="159.0" height="1" fill="url(#g21)"/><rect x="533.8" y="216.0" width="185.2" height="1" fill="url(#g30)"/><rect x="533.3" y="217.0" width="187.7" height="1" fill="url(#g30)"/><rect x="521.0" y="218.0" width="186.8" height="1" fill="url(#g32)"/><rect x="535.3" y="219.0" width="182.2" height="1" fill="url(#g30)"/><rect x="539.8" y="220.0" width="178.5" height="1" fill="url(#g28)"/><rect x="546.2" y="221.0" width="166.7" height="1" fill="url(#g26)"/><rect x="540.3" y="222.0" width="153.0" height="1" fill="url(#g21)"/><rect x="530.7" y="223.0" width="176.7" height="1" fill="url(#g26)"/><rect x="533.5" y="224.0" width="179.3" height="1" fill="url(#g32)"/><rect x="527.0" y="225.0" width="188.4" height="1" fill="url(#g31)"/><rect x="522.2" y="226.0" width="194.7" height="1" fill="url(#g33)"/><rect x="531.5" y="227.0" width="187.6" height="1" fill="url(#g33)"/><rect x="531.8" y="228.0" width="181.1" height="1" fill="url(#g33)"/><rect x="526.2" y="229.0" width="187.1" height="1" fill="url(#g29)"/><rect x="532.9" y="230.0" width="173.1" height="1" fill="url(#g27)"/><rect x="542.1" y="231.0" width="145.3" height="1" fill="url(#g13)"/><rect x="539.2" y="232.0" width="154.5" height="1" fill="url(#g15)"/><rect x="526.7" y="233.0" width="165.7" height="1" fill="url(#g24)"/><rect x="531.3" y="234.0" width="174.1" height="1" fill="url(#g32)"/><rect x="531.9" y="235.0" width="183.9" height="1" fill="url(#g28)"/><rect x="544.7" y="236.0" width="157.8" height="1" fill="url(#g29)"/><rect x="535.9" y="237.0" width="155.4" height="1" fill="url(#g22)"/><rect x="551.3" y="238.0" width="141.9" height="1" fill="url(#g18)"/><rect x="533.6" y="239.0" width="167.5" height="1" fill="url(#g26)"/><rect x="530.7" y="240.0" width="174.3" height="1" fill="url(#g22)"/><rect x="540.1" y="241.0" width="160.8" height="1" fill="url(#g29)"/><rect x="551.7" y="242.0" width="157.6" height="1" fill="url(#g24)"/><rect x="546.5" y="243.0" width="158.3" height="1" fill="url(#g12)"/><rect x="543.8" y="244.0" width="152.6" height="1" fill="url(#g13)"/><rect x="565.9" y="245.0" width="109.9" height="1" fill="url(#g7)"/><rect x="581.7" y="263.0" width="76.0" height="1" fill="url(#g6)"/><rect x="570.9" y="264.0" width="93.6" height="1" fill="url(#g11)"/><rect x="566.8" y="265.0" width="98.1" height="1" fill="url(#g12)"/><rect x="571.7" y="266.0" width="88.5" height="1" fill="url(#g9)"/><rect x="579.4" y="267.0" width="71.7" height="1" fill="url(#g4)"/><rect x="569.6" y="273.0" width="78.1" height="1" fill="url(#g4)"/><rect x="562.0" y="274.0" width="95.0" height="1" fill="url(#g9)"/><rect x="562.0" y="275.0" width="100.7" height="1" fill="url(#g12)"/><rect x="560.6" y="276.0" width="97.5" height="1" fill="url(#g11)"/><rect x="571.6" y="277.0" width="81.1" height="1" fill="url(#g6)"/><rect x="583.8" y="287.0" width="57.2" height="1" fill="url(#g4)"/><rect x="576.4" y="288.0" width="72.8" height="1" fill="url(#g8)"/><rect x="574.8" y="289.0" width="71.3" height="1" fill="url(#g8)"/><rect x="583.5" y="290.0" width="55.2" height="1" fill="url(#g4)"/><rect x="568.2" y="303.0" width="88.7" height="1" fill="url(#g7)"/><rect x="557.7" y="304.0" width="106.7" height="1" fill="url(#g12)"/><rect x="560.2" y="305.0" width="111.7" height="1" fill="url(#g20)"/><rect x="550.8" y="306.0" width="130.2" height="1" fill="url(#g22)"/><rect x="536.8" y="307.0" width="149.3" height="1" fill="url(#g28)"/><rect x="547.1" y="308.0" width="157.2" height="1" fill="url(#g28)"/><rect x="547.2" y="309.0" width="143.8" height="1" fill="url(#g26)"/><rect x="551.9" y="310.0" width="131.8" height="1" fill="url(#g25)"/><rect x="537.6" y="311.0" width="141.9" height="1" fill="url(#g20)"/><rect x="529.5" y="312.0" width="163.6" height="1" fill="url(#g25)"/><rect x="531.6" y="313.0" width="162.7" height="1" fill="url(#g30)"/><rect x="534.8" y="314.0" width="161.2" height="1" fill="url(#g27)"/><rect x="532.5" y="315.0" width="164.2" height="1" fill="url(#g18)"/><rect x="542.9" y="316.0" width="158.6" height="1" fill="url(#g19)"/><rect x="536.6" y="317.0" width="159.9" height="1" fill="url(#g13)"/><rect x="526.6" y="318.0" width="178.5" height="1" fill="url(#g20)"/><rect x="535.6" y="319.0" width="170.6" height="1" fill="url(#g28)"/><rect x="530.0" y="320.0" width="184.1" height="1" fill="url(#g28)"/><rect x="536.5" y="321.0" width="168.3" height="1" fill="url(#g29)"/><rect x="533.9" y="322.0" width="160.4" height="1" fill="url(#g28)"/><rect x="535.3" y="323.0" width="155.1" height="1" fill="url(#g27)"/><rect x="551.4" y="324.0" width="133.9" height="1" fill="url(#g17)"/><rect x="552.8" y="325.0" width="125.9" height="1" fill="url(#g15)"/><rect x="539.6" y="326.0" width="155.2" height="1" fill="url(#g26)"/><rect x="525.9" y="327.0" width="182.7" height="1" fill="url(#g28)"/><rect x="529.9" y="328.0" width="161.6" height="1" fill="url(#g22)"/><rect x="547.5" y="329.0" width="134.3" height="1" fill="url(#g12)"/><rect x="547.0" y="330.0" width="141.6" height="1" fill="url(#g20)"/><rect x="551.2" y="331.0" width="127.8" height="1" fill="url(#g19)"/><rect x="554.1" y="332.0" width="121.1" height="1" fill="url(#g18)"/><rect x="554.4" y="333.0" width="119.1" height="1" fill="url(#g11)"/><rect x="569.8" y="334.0" width="100.3" height="1" fill="url(#g7)"/><rect x="564.3" y="339.0" width="113.5" height="1" fill="url(#g4)"/><rect x="555.6" y="340.0" width="123.1" height="1" fill="url(#g9)"/><rect x="543.4" y="341.0" width="138.5" height="1" fill="url(#g16)"/><rect x="549.0" y="342.0" width="150.3" height="1" fill="url(#g21)"/><rect x="544.7" y="343.0" width="146.2" height="1" fill="url(#g27)"/><rect x="545.1" y="344.0" width="148.1" height="1" fill="url(#g26)"/><rect x="536.7" y="345.0" width="159.4" height="1" fill="url(#g22)"/><rect x="540.1" y="346.0" width="143.5" height="1" fill="url(#g17)"/><rect x="541.4" y="347.0" width="163.6" height="1" fill="url(#g21)"/><rect x="540.3" y="348.0" width="172.7" height="1" fill="url(#g28)"/><rect x="526.8" y="349.0" width="184.0" height="1" fill="url(#g26)"/><rect x="537.6" y="350.0" width="171.2" height="1" fill="url(#g27)"/><rect x="533.1" y="351.0" width="179.0" height="1" fill="url(#g24)"/><rect x="544.3" y="352.0" width="143.2" height="1" fill="url(#g15)"/><rect x="543.4" y="353.0" width="142.1" height="1" fill="url(#g14)"/><rect x="526.0" y="354.0" width="165.4" height="1" fill="url(#g25)"/><rect x="524.5" y="355.0" width="174.5" height="1" fill="url(#g29)"/><rect x="533.6" y="356.0" width="173.7" height="1" fill="url(#g22)"/><rect x="522.5" y="357.0" width="188.9" height="1" fill="url(#g33)"/><rect x="529.2" y="358.0" width="177.2" height="1" fill="url(#g31)"/><rect x="526.9" y="359.0" width="175.0" height="1" fill="url(#g26)"/><rect x="524.8" y="360.0" width="169.7" height="1" fill="url(#g21)"/><rect x="530.4" y="361.0" width="170.5" height="1" fill="url(#g28)"/><rect x="522.7" y="362.0" width="189.3" height="1" fill="url(#g30)"/><rect x="524.9" y="363.0" width="174.0" height="1" fill="url(#g23)"/><rect x="536.1" y="364.0" width="156.0" height="1" fill="url(#g25)"/><rect x="541.9" y="365.0" width="146.4" height="1" fill="url(#g20)"/><rect x="536.7" y="366.0" width="165.7" height="1" fill="url(#g25)"/><rect x="528.4" y="367.0" width="183.8" height="1" fill="url(#g32)"/><rect x="525.6" y="368.0" width="189.8" height="1" fill="url(#g32)"/><rect x="519.4" y="369.0" width="196.9" height="1" fill="url(#g31)"/><rect x="534.5" y="370.0" width="167.2" height="1" fill="url(#g20)"/><rect x="539.6" y="371.0" width="159.6" height="1" fill="url(#g14)"/><rect x="531.6" y="372.0" width="168.5" height="1" fill="url(#g24)"/><rect x="521.9" y="373.0" width="183.0" height="1" fill="url(#g30)"/><rect x="520.3" y="374.0" width="194.0" height="1" fill="url(#g33)"/><rect x="522.8" y="375.0" width="180.8" height="1" fill="url(#g35)"/><rect x="527.2" y="376.0" width="181.0" height="1" fill="url(#g31)"/><rect x="527.4" y="377.0" width="183.1" height="1" fill="url(#g25)"/><rect x="528.0" y="378.0" width="171.2" height="1" fill="url(#g23)"/><rect x="530.4" y="379.0" width="172.8" height="1" fill="url(#g16)"/><rect x="526.8" y="380.0" width="191.5" height="1" fill="url(#g33)"/><rect x="529.1" y="381.0" width="180.1" height="1" fill="url(#g32)"/><rect x="522.9" y="382.0" width="195.6" height="1" fill="url(#g31)"/><rect x="516.4" y="383.0" width="192.0" height="1" fill="url(#g32)"/><rect x="527.3" y="384.0" width="186.6" height="1" fill="url(#g27)"/><rect x="533.5" y="385.0" width="170.1" height="1" fill="url(#g22)"/><rect x="536.4" y="386.0" width="169.2" height="1" fill="url(#g20)"/><rect x="539.4" y="387.0" width="174.1" height="1" fill="url(#g25)"/><rect x="532.3" y="388.0" width="184.9" height="1" fill="url(#g23)"/><rect x="526.4" y="389.0" width="176.3" height="1" fill="url(#g31)"/><rect x="531.2" y="390.0" width="163.9" height="1" fill="url(#g23)"/><rect x="537.6" y="391.0" width="156.0" height="1" fill="url(#g18)"/><rect x="522.2" y="392.0" width="177.4" height="1" fill="url(#g26)"/><rect x="528.4" y="393.0" width="167.7" height="1" fill="url(#g30)"/><rect x="528.4" y="394.0" width="180.2" height="1" fill="url(#g28)"/><rect x="531.4" y="395.0" width="168.2" height="1" fill="url(#g24)"/><rect x="549.8" y="396.0" width="145.6" height="1" fill="url(#g16)"/><rect x="548.8" y="397.0" width="136.5" height="1" fill="url(#g8)"/><rect x="534.1" y="398.0" width="173.1" height="1" fill="url(#g22)"/><rect x="518.4" y="399.0" width="179.6" height="1" fill="url(#g29)"/><rect x="528.9" y="400.0" width="173.2" height="1" fill="url(#g30)"/><rect x="519.9" y="401.0" width="193.6" height="1" fill="url(#g27)"/><rect x="529.5" y="402.0" width="171.5" height="1" fill="url(#g24)"/><rect x="537.8" y="403.0" width="168.9" height="1" fill="url(#g18)"/><rect x="527.8" y="404.0" width="166.2" height="1" fill="url(#g24)"/><rect x="523.3" y="405.0" width="188.8" height="1" fill="url(#g31)"/><rect x="528.6" y="406.0" width="189.0" height="1" fill="url(#g31)"/><rect x="523.7" y="407.0" width="181.9" height="1" fill="url(#g29)"/><rect x="528.4" y="408.0" width="179.9" height="1" fill="url(#g25)"/><rect x="531.3" y="409.0" width="159.8" height="1" fill="url(#g20)"/><rect x="542.4" y="410.0" width="151.7" height="1" fill="url(#g24)"/><rect x="529.7" y="411.0" width="170.9" height="1" fill="url(#g21)"/><rect x="526.2" y="412.0" width="172.3" height="1" fill="url(#g22)"/><rect x="523.8" y="413.0" width="168.7" height="1" fill="url(#g28)"/><rect x="525.7" y="414.0" width="175.3" height="1" fill="url(#g26)"/><rect x="548.6" y="415.0" width="134.3" height="1" fill="url(#g14)"/><rect x="551.8" y="416.0" width="128.9" height="1" fill="url(#g15)"/><rect x="536.0" y="417.0" width="168.7" height="1" fill="url(#g23)"/><rect x="535.3" y="418.0" width="159.4" height="1" fill="url(#g25)"/><rect x="543.9" y="419.0" width="144.5" height="1" fill="url(#g22)"/><rect x="544.4" y="420.0" width="136.7" height="1" fill="url(#g16)"/><rect x="560.2" y="421.0" width="111.4" height="1" fill="url(#g9)"/><rect x="552.2" y="422.0" width="129.9" height="1" fill="url(#g4)"/><rect x="559.7" y="435.0" width="119.1" height="1" fill="url(#g5)"/><rect x="564.2" y="436.0" width="115.6" height="1" fill="url(#g6)"/><rect x="548.7" y="437.0" width="141.5" height="1" fill="url(#g11)"/><rect x="537.1" y="438.0" width="152.6" height="1" fill="url(#g14)"/><rect x="534.9" y="439.0" width="174.2" height="1" fill="url(#g27)"/><rect x="542.7" y="440.0" width="156.1" height="1" fill="url(#g30)"/><rect x="540.7" y="441.0" width="160.2" height="1" fill="url(#g20)"/><rect x="543.8" y="442.0" width="152.5" height="1" fill="url(#g25)"/><rect x="545.1" y="443.0" width="146.6" height="1" fill="url(#g23)"/><rect x="543.3" y="444.0" width="162.7" height="1" fill="url(#g24)"/><rect x="528.6" y="445.0" width="175.4" height="1" fill="url(#g17)"/><rect x="534.5" y="446.0" width="166.1" height="1" fill="url(#g19)"/><rect x="541.7" y="447.0" width="155.5" height="1" fill="url(#g27)"/><rect x="544.2" y="448.0" width="138.4" height="1" fill="url(#g14)"/><rect x="540.9" y="449.0" width="141.5" height="1" fill="url(#g15)"/><rect x="525.2" y="450.0" width="171.3" height="1" fill="url(#g27)"/><rect x="522.6" y="451.0" width="193.6" height="1" fill="url(#g28)"/><rect x="526.3" y="452.0" width="190.9" height="1" fill="url(#g23)"/><rect x="521.6" y="453.0" width="199.2" height="1" fill="url(#g31)"/><rect x="536.4" y="454.0" width="177.6" height="1" fill="url(#g26)"/><rect x="537.4" y="455.0" width="158.2" height="1" fill="url(#g24)"/><rect x="534.6" y="456.0" width="179.1" height="1" fill="url(#g27)"/><rect x="521.1" y="457.0" width="195.2" height="1" fill="url(#g28)"/><rect x="529.2" y="458.0" width="192.6" height="1" fill="url(#g31)"/><rect x="528.5" y="459.0" width="172.0" height="1" fill="url(#g26)"/><rect x="529.7" y="460.0" width="168.3" height="1" fill="url(#g21)"/><rect x="535.6" y="461.0" width="164.6" height="1" fill="url(#g23)"/><rect x="529.4" y="462.0" width="188.9" height="1" fill="url(#g27)"/><rect x="537.7" y="463.0" width="167.9" height="1" fill="url(#g28)"/><rect x="542.7" y="464.0" width="163.8" height="1" fill="url(#g25)"/><rect x="549.7" y="465.0" width="149.3" height="1" fill="url(#g14)"/><rect x="552.4" y="466.0" width="137.0" height="1" fill="url(#g13)"/><rect x="529.9" y="467.0" width="165.9" height="1" fill="url(#g23)"/><rect x="532.8" y="468.0" width="174.8" height="1" fill="url(#g27)"/><rect x="529.2" y="469.0" width="179.0" height="1" fill="url(#g27)"/><rect x="539.4" y="470.0" width="176.8" height="1" fill="url(#g16)"/><rect x="542.6" y="471.0" width="170.9" height="1" fill="url(#g26)"/><rect x="535.5" y="472.0" width="165.9" height="1" fill="url(#g23)"/><rect x="540.6" y="473.0" width="164.5" height="1" fill="url(#g17)"/><rect x="529.4" y="474.0" width="172.8" height="1" fill="url(#g27)"/><rect x="536.1" y="475.0" width="169.2" height="1" fill="url(#g20)"/><rect x="538.1" y="476.0" width="181.1" height="1" fill="url(#g27)"/><rect x="538.5" y="477.0" width="180.1" height="1" fill="url(#g27)"/><rect x="538.7" y="478.0" width="170.7" height="1" fill="url(#g29)"/><rect x="531.0" y="479.0" width="185.0" height="1" fill="url(#g27)"/><rect x="542.1" y="480.0" width="167.7" height="1" fill="url(#g13)"/><rect x="556.8" y="481.0" width="139.3" height="1" fill="url(#g11)"/><rect x="538.1" y="482.0" width="165.3" height="1" fill="url(#g19)"/><rect x="524.5" y="483.0" width="183.8" height="1" fill="url(#g25)"/><rect x="527.3" y="484.0" width="176.6" height="1" fill="url(#g18)"/><rect x="537.2" y="485.0" width="177.5" height="1" fill="url(#g23)"/><rect x="536.7" y="486.0" width="174.1" height="1" fill="url(#g27)"/><rect x="535.4" y="487.0" width="173.9" height="1" fill="url(#g24)"/><rect x="532.0" y="488.0" width="166.7" height="1" fill="url(#g22)"/><rect x="531.0" y="489.0" width="166.8" height="1" fill="url(#g23)"/><rect x="530.5" y="490.0" width="185.9" height="1" fill="url(#g25)"/><rect x="541.6" y="491.0" width="179.0" height="1" fill="url(#g29)"/><rect x="526.4" y="492.0" width="188.0" height="1" fill="url(#g27)"/><rect x="537.0" y="493.0" width="178.0" height="1" fill="url(#g24)"/><rect x="536.5" y="494.0" width="163.1" height="1" fill="url(#g21)"/><rect x="540.7" y="495.0" width="161.0" height="1" fill="url(#g16)"/><rect x="533.1" y="496.0" width="174.1" height="1" fill="url(#g26)"/><rect x="536.2" y="497.0" width="167.7" height="1" fill="url(#g29)"/><rect x="545.4" y="498.0" width="159.1" height="1" fill="url(#g25)"/><rect x="537.4" y="499.0" width="154.8" height="1" fill="url(#g23)"/><rect x="545.3" y="500.0" width="148.4" height="1" fill="url(#g19)"/><rect x="544.6" y="501.0" width="143.4" height="1" fill="url(#g12)"/><rect x="547.0" y="502.0" width="134.6" height="1" fill="url(#g5)"/><rect x="569.6" y="503.0" width="79.3" height="1" fill="url(#g6)"/><rect x="560.4" y="504.0" width="99.5" height="1" fill="url(#g10)"/><rect x="557.3" y="505.0" width="105.1" height="1" fill="url(#g11)"/><rect x="564.9" y="506.0" width="90.8" height="1" fill="url(#g7)"/><rect x="581.2" y="509.0" width="62.2" height="1" fill="url(#g4)"/><rect x="570.4" y="510.0" width="79.9" height="1" fill="url(#g8)"/><rect x="566.8" y="511.0" width="87.9" height="1" fill="url(#g9)"/><rect x="574.5" y="512.0" width="75.3" height="1" fill="url(#g6)"/><rect x="561.5" y="520.0" width="103.2" height="1" fill="url(#g4)"/><rect x="565.9" y="521.0" width="87.6" height="1" fill="url(#g9)"/><rect x="550.6" y="522.0" width="124.9" height="1" fill="url(#g16)"/><rect x="540.4" y="523.0" width="152.2" height="1" fill="url(#g15)"/><rect x="519.9" y="524.0" width="173.1" height="1" fill="url(#g19)"/><rect x="524.4" y="525.0" width="164.9" height="1" fill="url(#g24)"/><rect x="528.5" y="526.0" width="167.3" height="1" fill="url(#g27)"/><rect x="532.0" y="527.0" width="153.7" height="1" fill="url(#g13)"/><rect x="533.0" y="528.0" width="151.9" height="1" fill="url(#g20)"/><rect x="524.5" y="529.0" width="172.3" height="1" fill="url(#g22)"/><rect x="507.6" y="530.0" width="188.6" height="1" fill="url(#g30)"/><rect x="522.4" y="531.0" width="182.2" height="1" fill="url(#g27)"/><rect x="529.0" y="532.0" width="171.1" height="1" fill="url(#g23)"/><rect x="519.8" y="533.0" width="179.7" height="1" fill="url(#g21)"/><rect x="523.7" y="534.0" width="162.9" height="1" fill="url(#g24)"/><rect x="529.2" y="535.0" width="166.4" height="1" fill="url(#g27)"/><rect x="521.6" y="536.0" width="171.4" height="1" fill="url(#g26)"/><rect x="523.3" y="537.0" width="155.6" height="1" fill="url(#g27)"/><rect x="522.6" y="538.0" width="156.4" height="1" fill="url(#g23)"/><rect x="543.9" y="539.0" width="123.5" height="1" fill="url(#g10)"/><rect x="123.5" y="20.5" width="656" height="519" fill="none" stroke="#151314" stroke-width="1"/></g></g>
<text x="15.35" y="38.80" font-family="'Liberation Sans', sans-serif" font-weight="bold" font-style="normal" font-size="34" fill="#000">A</text>
<text x="96.00" y="39.10" font-family="'Liberation Sans', sans-serif" font-weight="normal" font-style="normal" font-size="43.5" fill="#000">8</text>
<text x="96.02" y="166.60" font-family="'Liberation Sans', sans-serif" font-weight="normal" font-style="normal" font-size="43.5" fill="#000">6</text>
<text x="95.38" y="304.70" font-family="'Liberation Sans', sans-serif" font-weight="normal" font-style="normal" font-size="43.5" fill="#000">4</text>
<text x="96.30" y="431.00" font-family="'Liberation Sans', sans-serif" font-weight="normal" font-style="normal" font-size="43.5" fill="#000">2</text>
<text x="95.81" y="551.50" font-family="'Liberation Sans', sans-serif" font-weight="normal" font-style="normal" font-size="43.5" fill="#000">0</text>
<text x="97.67" y="575.60" font-family="'Liberation Sans', sans-serif" font-weight="normal" font-style="normal" font-size="43.5" fill="#000">-</text><path transform="translate(117.16,575.60) scale(43.5)" d="M0.167,-0.69 L0.25,-0.69 L0.25,0 L0.167,0 L0.167,-0.462 L0,-0.462 L0,-0.528 C0.085,-0.532 0.152,-0.575 0.167,-0.69 Z" fill="#000"/><text x="136.34" y="575.60" font-family="'Liberation Sans', sans-serif" font-weight="normal" font-style="normal" font-size="43.5" fill="#000">.5</text>
<text x="206.37" y="575.60" font-family="'Liberation Sans', sans-serif" font-weight="normal" font-style="normal" font-size="43.5" fill="#000">-</text><path transform="translate(225.86,575.60) scale(43.5)" d="M0.167,-0.69 L0.25,-0.69 L0.25,0 L0.167,0 L0.167,-0.462 L0,-0.462 L0,-0.528 C0.085,-0.532 0.152,-0.575 0.167,-0.69 Z" fill="#000"/>
<text x="311.97" y="574.50" font-family="'Liberation Sans', sans-serif" font-weight="normal" font-style="normal" font-size="43.5" fill="#000">-0.5</text>
<text x="442.70" y="575.30" font-family="'Liberation Sans', sans-serif" font-weight="normal" font-style="normal" font-size="43.5" fill="#000">0</text>
<text x="514.00" y="574.60" font-family="'Liberation Sans', sans-serif" font-weight="normal" font-style="normal" font-size="43.5" fill="#000">0.5</text>
<path transform="translate(663.20,574.90) scale(43.5)" d="M0.167,-0.69 L0.25,-0.69 L0.25,0 L0.167,0 L0.167,-0.462 L0,-0.462 L0,-0.528 C0.085,-0.532 0.152,-0.575 0.167,-0.69 Z" fill="#000"/>
<path transform="translate(742.60,578.30) scale(43.5)" d="M0.167,-0.69 L0.25,-0.69 L0.25,0 L0.167,0 L0.167,-0.462 L0,-0.462 L0,-0.528 C0.085,-0.532 0.152,-0.575 0.167,-0.69 Z" fill="#000"/><text x="761.78" y="578.30" font-family="'Liberation Sans', sans-serif" font-weight="normal" font-style="normal" font-size="43.5" fill="#000">.5</text>
<g fill="none" stroke="#1a1a1a" stroke-linecap="round"><path d="M439.8,588.4 C441.5,582.6 444,579.6 447.3,579.6 C450.8,579.6 453.6,581.3 453.4,585.5 C453,591 451.8,598 451,602.5 C450,606.5 447,608.6 443.6,608.6 C441.6,608.6 440.4,607.2 440.3,605.6" stroke-width="1.9"/><path d="M453.9,583 L451.3,603.5" stroke-width="3.0"/><path d="M465.9,582.2 C464.4,580 461.6,579.4 459.6,579.6 C456.6,580 454.6,582.4 453.7,585" stroke-width="1.8"/><path d="M451.3,602.5 C451.7,606.5 453.6,608.6 456.6,608.6 C461,608.6 465,604.2 466.3,599.6" stroke-width="1.8"/></g><circle cx="441.3" cy="604.1" r="2.4" fill="#1a1a1a"/><circle cx="464.6" cy="583.6" r="2.4" fill="#1a1a1a"/>
<text transform="translate(70.30,436.20) rotate(-90) scale(1.07,1)" x="-3.16" y="0" font-family="'Liberation Serif', serif" font-weight="normal" font-style="italic" font-size="72" fill="#222" stroke="#fff" stroke-width="0.9">t (seconds)</text>
<rect x="120" y="653" width="679" height="514" fill="#fdfdfb"/><rect x="122.00" y="673.93" width="20.59" height="493.07" fill="#363a73" stroke="#1c1f45" stroke-width="0.9"/><rect x="142.59" y="705.13" width="20.59" height="461.87" fill="#363a73" stroke="#1c1f45" stroke-width="0.9"/><rect x="163.18" y="804.26" width="20.59" height="362.74" fill="#363a73" stroke="#1c1f45" stroke-width="0.9"/><rect x="183.77" y="788.11" width="20.59" height="378.89" fill="#363a73" stroke="#1c1f45" stroke-width="0.9"/><rect x="204.36" y="839.88" width="20.59" height="327.12" fill="#363a73" stroke="#1c1f45" stroke-width="0.9"/><rect x="224.95" y="955.16" width="20.59" height="211.84" fill="#363a73" stroke="#1c1f45" stroke-width="0.9"/><rect x="245.54" y="944.14" width="20.59" height="222.86" fill="#363a73" stroke="#1c1f45" stroke-width="0.9"/><rect x="266.13" y="1025.28" width="20.59" height="141.72" fill="#363a73" stroke="#1c1f45" stroke-width="0.9"/><rect x="286.72" y="1029.69" width="20.59" height="137.31" fill="#363a73" stroke="#1c1f45" stroke-width="0.9"/><rect x="307.31" y="1083.66" width="20.59" height="83.34" fill="#363a73" stroke="#1c1f45" stroke-width="0.9"/><rect x="327.90" y="1074.85" width="20.59" height="92.15" fill="#363a73" stroke="#1c1f45" stroke-width="0.9"/><rect x="348.49" y="1081.46" width="20.59" height="85.54" fill="#363a73" stroke="#1c1f45" stroke-width="0.9"/><rect x="369.08" y="1081.46" width="20.59" height="85.54" fill="#363a73" stroke="#1c1f45" stroke-width="0.9"/><rect x="389.67" y="1128.82" width="20.59" height="38.18" fill="#363a73" stroke="#1c1f45" stroke-width="0.9"/><rect x="410.26" y="1124.04" width="20.59" height="42.96" fill="#363a73" stroke="#1c1f45" stroke-width="0.9"/><rect x="430.85" y="1112.66" width="20.59" height="54.34" fill="#363a73" stroke="#1c1f45" stroke-width="0.9"/><rect x="451.44" y="1131.02" width="20.59" height="35.98" fill="#363a73" stroke="#1c1f45" stroke-width="0.9"/><rect x="472.03" y="1130.65" width="20.59" height="36.35" fill="#363a73" stroke="#1c1f45" stroke-width="0.9"/><rect x="492.62" y="1151.21" width="20.59" height="15.79" fill="#363a73" stroke="#1c1f45" stroke-width="0.9"/><rect x="513.21" y="1146.44" width="20.59" height="20.56" fill="#363a73" stroke="#1c1f45" stroke-width="0.9"/><rect x="533.80" y="1141.67" width="20.59" height="25.33" fill="#363a73" stroke="#1c1f45" stroke-width="0.9"/><rect x="554.39" y="1143.87" width="20.59" height="23.13" fill="#363a73" stroke="#1c1f45" stroke-width="0.9"/><rect x="574.98" y="1146.44" width="20.59" height="20.56" fill="#363a73" stroke="#1c1f45" stroke-width="0.9"/><rect x="595.57" y="1157.82" width="20.59" height="9.18" fill="#363a73" stroke="#1c1f45" stroke-width="0.9"/><rect x="616.16" y="1158.92" width="20.59" height="8.08" fill="#363a73" stroke="#1c1f45" stroke-width="0.9"/><rect x="636.75" y="1161.13" width="20.59" height="5.87" fill="#363a73" stroke="#1c1f45" stroke-width="0.9"/><rect x="657.34" y="1160.39" width="20.59" height="6.61" fill="#363a73" stroke="#1c1f45" stroke-width="0.9"/><rect x="677.93" y="1155.25" width="20.59" height="11.75" fill="#363a73" stroke="#1c1f45" stroke-width="0.9"/><rect x="698.52" y="1160.02" width="20.59" height="6.98" fill="#363a73" stroke="#1c1f45" stroke-width="0.9"/><rect x="719.11" y="1161.13" width="20.59" height="5.87" fill="#363a73" stroke="#1c1f45" stroke-width="0.9"/><rect x="739.70" y="1165.53" width="20.59" height="1.47" fill="#363a73" stroke="#1c1f45" stroke-width="0.9"/><rect x="760.29" y="1157.82" width="20.59" height="9.18" fill="#363a73" stroke="#1c1f45" stroke-width="0.9"/><rect x="780.88" y="1164.80" width="18.12" height="2.20" fill="#363a73" stroke="#1c1f45" stroke-width="0.9"/><g clip-path="url(#bclip)"><path d="M120.0,601.6 L121.7,609.2 L123.4,616.7 L125.1,624.1 L126.8,631.3 L128.5,638.5 L130.2,645.6 L131.9,652.6 L133.6,659.5 L135.3,666.3 L137.0,673.0 L138.7,679.7 L140.4,686.2 L142.1,692.7 L143.8,699.0 L145.5,705.3 L147.2,711.5 L148.9,717.6 L150.6,723.6 L152.3,729.6 L154.0,735.5 L155.7,741.3 L157.4,747.0 L159.1,752.6 L160.8,758.2 L162.5,763.6 L164.2,769.1 L165.9,774.4 L167.6,779.7 L169.4,784.9 L171.1,790.0 L172.8,795.0 L174.5,800.0 L176.2,805.0 L177.9,809.8 L179.6,814.6 L181.3,819.3 L183.0,824.0 L184.7,828.6 L186.4,833.2 L188.1,837.6 L189.8,842.0 L191.5,846.4 L193.2,850.7 L194.9,855.0 L196.6,859.1 L198.3,863.3 L200.0,867.3 L201.7,871.4 L203.4,875.3 L205.1,879.2 L206.8,883.1 L208.5,886.9 L210.2,890.7 L211.9,894.4 L213.6,898.0 L215.3,901.7 L217.0,905.2 L218.7,908.7 L220.4,912.2 L222.1,915.6 L223.8,919.0 L225.5,922.3 L227.2,925.6 L228.9,928.8 L230.6,932.0 L232.3,935.2 L234.0,938.3 L235.7,941.4 L237.4,944.4 L239.1,947.4 L240.8,950.3 L242.5,953.2 L244.2,956.1 L245.9,958.9 L247.6,961.7 L249.3,964.5 L251.0,967.2 L252.7,969.9 L254.4,972.5 L256.1,975.1 L257.8,977.7 L259.5,980.2 L261.2,982.7 L262.9,985.2 L264.6,987.7 L266.4,990.1 L268.1,992.4 L269.8,994.8 L271.5,997.1 L273.2,999.4 L274.9,1001.6 L276.6,1003.8 L278.3,1006.0 L280.0,1008.2 L281.7,1010.3 L283.4,1012.4 L285.1,1014.5 L286.8,1016.5 L288.5,1018.6 L290.2,1020.6 L291.9,1022.5 L293.6,1024.5 L295.3,1026.4 L297.0,1028.3 L298.7,1030.1 L300.4,1032.0 L302.1,1033.8 L303.8,1035.6 L305.5,1037.3 L307.2,1039.1 L308.9,1040.8 L310.6,1042.5 L312.3,1044.1 L314.0,1045.8 L315.7,1047.4 L317.4,1049.0 L319.1,1050.6 L320.8,1052.2 L322.5,1053.7 L324.2,1055.2 L325.9,1056.7 L327.6,1058.2 L329.3,1059.7 L331.0,1061.1 L332.7,1062.5 L334.4,1063.9 L336.1,1065.3 L337.8,1066.7 L339.5,1068.0 L341.2,1069.3 L342.9,1070.7 L344.6,1072.0 L346.3,1073.2 L348.0,1074.5 L349.7,1075.7 L351.4,1077.0 L353.1,1078.2 L354.8,1079.4 L356.5,1080.5 L358.2,1081.7 L359.9,1082.8 L361.6,1084.0 L363.4,1085.1 L365.1,1086.2 L366.8,1087.3 L368.5,1088.3 L370.2,1089.4 L371.9,1090.4 L373.6,1091.5 L375.3,1092.5 L377.0,1093.5 L378.7,1094.5 L380.4,1095.4 L382.1,1096.4 L383.8,1097.3 L385.5,1098.3 L387.2,1099.2 L388.9,1100.1 L390.6,1101.0 L392.3,1101.9 L394.0,1102.8 L395.7,1103.6 L397.4,1104.5 L399.1,1105.3 L400.8,1106.1 L402.5,1107.0 L404.2,1107.8 L405.9,1108.6 L407.6,1109.3 L409.3,1110.1 L411.0,1110.9 L412.7,1111.6 L414.4,1112.4 L416.1,1113.1 L417.8,1113.8 L419.5,1114.5 L421.2,1115.2 L422.9,1115.9 L424.6,1116.6 L426.3,1117.3 L428.0,1118.0 L429.7,1118.6 L431.4,1119.3 L433.1,1119.9 L434.8,1120.5 L436.5,1121.2 L438.2,1121.8 L439.9,1122.4 L441.6,1123.0 L443.3,1123.6 L445.0,1124.2 L446.7,1124.7 L448.4,1125.3 L450.1,1125.9 L451.8,1126.4 L453.5,1127.0 L455.2,1127.5 L456.9,1128.0 L458.6,1128.6 L460.4,1129.1 L462.1,1129.6 L463.8,1130.1 L465.5,1130.6 L467.2,1131.1 L468.9,1131.5 L470.6,1132.0 L472.3,1132.5 L474.0,1133.0 L475.7,1133.4 L477.4,1133.9 L479.1,1134.3 L480.8,1134.7 L482.5,1135.2 L484.2,1135.6 L485.9,1136.0 L487.6,1136.4 L489.3,1136.9 L491.0,1137.3 L492.7,1137.7 L494.4,1138.0 L496.1,1138.4 L497.8,1138.8 L499.5,1139.2 L501.2,1139.6 L502.9,1139.9 L504.6,1140.3 L506.3,1140.7 L508.0,1141.0 L509.7,1141.4 L511.4,1141.7 L513.1,1142.0 L514.8,1142.4 L516.5,1142.7 L518.2,1143.0 L519.9,1143.4 L521.6,1143.7 L523.3,1144.0 L525.0,1144.3 L526.7,1144.6 L528.4,1144.9 L530.1,1145.2 L531.8,1145.5 L533.5,1145.8 L535.2,1146.1 L536.9,1146.3 L538.6,1146.6 L540.3,1146.9 L542.0,1147.2 L543.7,1147.4 L545.4,1147.7 L547.1,1148.0 L548.8,1148.2 L550.5,1148.5 L552.2,1148.7 L553.9,1149.0 L555.6,1149.2 L557.4,1149.4 L559.1,1149.7 L560.8,1149.9 L562.5,1150.1 L564.2,1150.4 L565.9,1150.6 L567.6,1150.8 L569.3,1151.0 L571.0,1151.2 L572.7,1151.4 L574.4,1151.7 L576.1,1151.9 L577.8,1152.1 L579.5,1152.3 L581.2,1152.5 L582.9,1152.7 L584.6,1152.9 L586.3,1153.0 L588.0,1153.2 L589.7,1153.4 L591.4,1153.6 L593.1,1153.8 L594.8,1154.0 L596.5,1154.1 L598.2,1154.3 L599.9,1154.5 L601.6,1154.6 L603.3,1154.8 L605.0,1155.0 L606.7,1155.1 L608.4,1155.3 L610.1,1155.4 L611.8,1155.6 L613.5,1155.8 L615.2,1155.9 L616.9,1156.1 L618.6,1156.2 L620.3,1156.3 L622.0,1156.5 L623.7,1156.6 L625.4,1156.8 L627.1,1156.9 L628.8,1157.0 L630.5,1157.2 L632.2,1157.3 L633.9,1157.4 L635.6,1157.6 L637.3,1157.7 L639.0,1157.8 L640.7,1157.9 L642.4,1158.1 L644.1,1158.2 L645.8,1158.3 L647.5,1158.4 L649.2,1158.5 L650.9,1158.6 L652.6,1158.8 L654.4,1158.9 L656.1,1159.0 L657.8,1159.1 L659.5,1159.2 L661.2,1159.3 L662.9,1159.4 L664.6,1159.5 L666.3,1159.6 L668.0,1159.7 L669.7,1159.8 L671.4,1159.9 L673.1,1160.0 L674.8,1160.1 L676.5,1160.2 L678.2,1160.3 L679.9,1160.4 L681.6,1160.4 L683.3,1160.5 L685.0,1160.6 L686.7,1160.7 L688.4,1160.8 L690.1,1160.9 L691.8,1161.0 L693.5,1161.0 L695.2,1161.1 L696.9,1161.2 L698.6,1161.3 L700.3,1161.4 L702.0,1161.4 L703.7,1161.5 L705.4,1161.6 L707.1,1161.7 L708.8,1161.7 L710.5,1161.8 L712.2,1161.9 L713.9,1161.9 L715.6,1162.0 L717.3,1162.1 L719.0,1162.1 L720.7,1162.2 L722.4,1162.3 L724.1,1162.3 L725.8,1162.4 L727.5,1162.5 L729.2,1162.5 L730.9,1162.6 L732.6,1162.6 L734.3,1162.7 L736.0,1162.7 L737.7,1162.8 L739.4,1162.9 L741.1,1162.9 L742.8,1163.0 L744.5,1163.0 L746.2,1163.1 L747.9,1163.1 L749.6,1163.2 L751.4,1163.2 L753.1,1163.3 L754.8,1163.3 L756.5,1163.4 L758.2,1163.4 L759.9,1163.5 L761.6,1163.5 L763.3,1163.6 L765.0,1163.6 L766.7,1163.7 L768.4,1163.7 L770.1,1163.8 L771.8,1163.8 L773.5,1163.8 L775.2,1163.9 L776.9,1163.9 L778.6,1164.0 L780.3,1164.0 L782.0,1164.0 L783.7,1164.1 L785.4,1164.1 L787.1,1164.2 L788.8,1164.2 L790.5,1164.2 L792.2,1164.3 L793.9,1164.3 L795.6,1164.4 L797.3,1164.4 L799.0,1164.4" fill="none" stroke="#b2383c" stroke-width="4.6"/></g><path d="M799,653 V1167" fill="none" stroke="#8a8a8a" stroke-width="2"/><path d="M119.4,1167 V653 H800" fill="none" stroke="#2a2a2a" stroke-width="1.3"/><path d="M120,1167 H799" fill="none" stroke="#222" stroke-width="1.4"/><path d="M217.0,653 v6" stroke="#555" stroke-width="1.2"/><path d="M314.0,653 v6" stroke="#555" stroke-width="1.2"/><path d="M411.0,653 v6" stroke="#555" stroke-width="1.2"/><path d="M508.0,653 v6" stroke="#555" stroke-width="1.2"/><path d="M605.0,653 v6" stroke="#555" stroke-width="1.2"/><path d="M702.0,653 v6" stroke="#555" stroke-width="1.2"/><path d="M120,1093.6 h4 M799,1093.6 h-6" stroke="#666" stroke-width="1.2"/><path d="M120,1020.1 h4 M799,1020.1 h-6" stroke="#666" stroke-width="1.2"/><path d="M120,946.7 h4 M799,946.7 h-6" stroke="#666" stroke-width="1.2"/><path d="M120,873.3 h4 M799,873.3 h-6" stroke="#666" stroke-width="1.2"/><path d="M120,799.9 h4 M799,799.9 h-6" stroke="#666" stroke-width="1.2"/><path d="M120,726.4 h4 M799,726.4 h-6" stroke="#666" stroke-width="1.2"/>
<text x="15.96" y="626.00" font-family="'Liberation Sans', sans-serif" font-weight="bold" font-style="normal" font-size="32" fill="#000">B</text>
<path transform="translate(60.12,671.20) scale(43)" d="M0.167,-0.69 L0.25,-0.69 L0.25,0 L0.167,0 L0.167,-0.462 L0,-0.462 L0,-0.528 C0.085,-0.532 0.152,-0.575 0.167,-0.69 Z" fill="#000"/><text x="79.08" y="671.20" font-family="'Liberation Sans', sans-serif" font-weight="normal" font-style="normal" font-size="43" fill="#000">.4</text>
<path transform="translate(60.57,739.00) scale(43)" d="M0.167,-0.69 L0.25,-0.69 L0.25,0 L0.167,0 L0.167,-0.462 L0,-0.462 L0,-0.528 C0.085,-0.532 0.152,-0.575 0.167,-0.69 Z" fill="#000"/><text x="79.53" y="739.00" font-family="'Liberation Sans', sans-serif" font-weight="normal" font-style="normal" font-size="43" fill="#000">.2</text>
<path transform="translate(80.42,807.40) scale(43)" d="M0.167,-0.69 L0.25,-0.69 L0.25,0 L0.167,0 L0.167,-0.462 L0,-0.462 L0,-0.528 C0.085,-0.532 0.152,-0.575 0.167,-0.69 Z" fill="#000"/>
<text x="56.71" y="883.60" font-family="'Liberation Sans', sans-serif" font-weight="normal" font-style="normal" font-size="43" fill="#000">0.8</text>
<text x="56.72" y="956.10" font-family="'Liberation Sans', sans-serif" font-weight="normal" font-style="normal" font-size="43" fill="#000">0.6</text>
<text x="56.70" y="1033.10" font-family="'Liberation Sans', sans-serif" font-weight="normal" font-style="normal" font-size="43" fill="#000">0.4</text>
<text x="57.15" y="1104.60" font-family="'Liberation Sans', sans-serif" font-weight="normal" font-style="normal" font-size="43" fill="#000">0.2</text>
<text x="79.44" y="1170.90" font-family="'Liberation Sans', sans-serif" font-weight="normal" font-style="normal" font-size="43" fill="#000">0</text>
<text x="111.92" y="1203.00" font-family="'Liberation Sans', sans-serif" font-weight="normal" font-style="normal" font-size="43" fill="#000">0</text>
<text x="185.92" y="1203.00" font-family="'Liberation Sans', sans-serif" font-weight="normal" font-style="normal" font-size="43" fill="#000">0.5</text>
<path transform="translate(295.70,1204.00) scale(43)" d="M0.167,-0.69 L0.25,-0.69 L0.25,0 L0.167,0 L0.167,-0.462 L0,-0.462 L0,-0.528 C0.085,-0.532 0.152,-0.575 0.167,-0.69 Z" fill="#000"/><text x="314.66" y="1204.00" font-family="'Liberation Sans', sans-serif" font-weight="normal" font-style="normal" font-size="43" fill="#000">.0</text>
<path transform="translate(387.60,1204.00) scale(43)" d="M0.167,-0.69 L0.25,-0.69 L0.25,0 L0.167,0 L0.167,-0.462 L0,-0.462 L0,-0.528 C0.085,-0.532 0.152,-0.575 0.167,-0.69 Z" fill="#000"/><text x="406.56" y="1204.00" font-family="'Liberation Sans', sans-serif" font-weight="normal" font-style="normal" font-size="43" fill="#000">.5</text>
<text x="485.94" y="1204.20" font-family="'Liberation Sans', sans-serif" font-weight="normal" font-style="normal" font-size="43" fill="#000">2.0</text>
<text x="584.44" y="1204.20" font-family="'Liberation Sans', sans-serif" font-weight="normal" font-style="normal" font-size="43" fill="#000">2.5</text>
<text x="681.16" y="1202.00" font-family="'Liberation Sans', sans-serif" font-weight="normal" font-style="normal" font-size="43" fill="#000">3.0</text>
<text x="763.16" y="1198.70" font-family="'Liberation Sans', sans-serif" font-weight="normal" font-style="normal" font-size="43" fill="#000">3.5</text>
<text transform="translate(300.55,1271.80) scale(1.015,1)" x="0" y="0" font-family="'Liberation Serif', serif" font-weight="normal" font-style="italic" font-size="70" fill="#222" stroke="#fff" stroke-width="0.9">T (seconds)</text>
<text transform="translate(43.00,962.50) rotate(-90) scale(1.23,1)" x="3.11" y="0" font-family="'Liberation Serif', serif" font-weight="normal" font-style="italic" font-size="53" fill="#222" stroke="#fff" stroke-width="0.9">p(T)</text>
</svg></body></html>
